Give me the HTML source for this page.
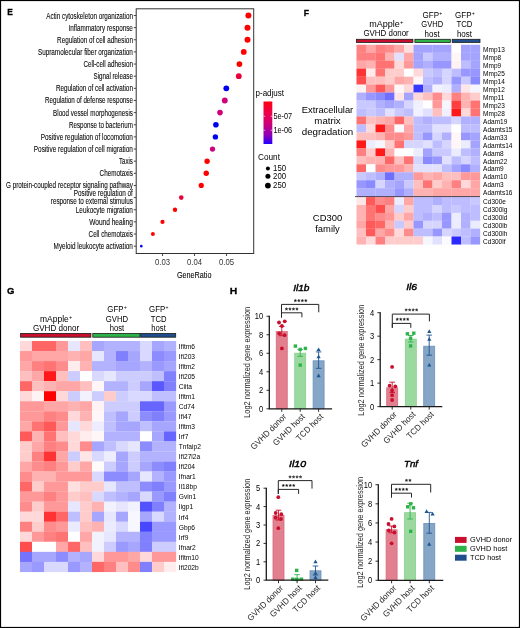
<!DOCTYPE html><html><head><meta charset="utf-8"><style>html,body{margin:0;padding:0;background:#fff;overflow:hidden}svg{will-change:transform} svg text{font-family:"Liberation Sans",sans-serif}</style></head><body><svg width="520" height="628" viewBox="0 0 520 628" style="display:block">
<rect x="0" y="0" width="520" height="628" fill="#fff"/>
<text x="7.20" y="15.40" font-size="9.8" fill="#000" font-weight="bold" textLength="5.60" lengthAdjust="spacingAndGlyphs" stroke="#000" stroke-width="0.3">E</text>
<text x="132.90" y="18.50" font-size="8.8" text-anchor="end" textLength="86.60" lengthAdjust="spacingAndGlyphs" stroke="#231f20" stroke-width="0.1" >Actin cytoskeleton organization</text>
<line x1="133.8" y1="15.50" x2="136.2" y2="15.50" stroke="#333" stroke-width="0.9"/>
<text x="132.90" y="30.64" font-size="8.8" text-anchor="end" textLength="64.30" lengthAdjust="spacingAndGlyphs" stroke="#231f20" stroke-width="0.1" >Inflammatory response</text>
<line x1="133.8" y1="27.64" x2="136.2" y2="27.64" stroke="#333" stroke-width="0.9"/>
<text x="132.90" y="42.78" font-size="8.8" text-anchor="end" textLength="75.80" lengthAdjust="spacingAndGlyphs" stroke="#231f20" stroke-width="0.1" >Regulation of cell adhesion</text>
<line x1="133.8" y1="39.78" x2="136.2" y2="39.78" stroke="#333" stroke-width="0.9"/>
<text x="132.90" y="54.92" font-size="8.8" text-anchor="end" textLength="95.00" lengthAdjust="spacingAndGlyphs" stroke="#231f20" stroke-width="0.1" >Supramolecular fiber organization</text>
<line x1="133.8" y1="51.92" x2="136.2" y2="51.92" stroke="#333" stroke-width="0.9"/>
<text x="132.90" y="67.06" font-size="8.8" text-anchor="end" textLength="49.40" lengthAdjust="spacingAndGlyphs" stroke="#231f20" stroke-width="0.1" >Cell-cell adhesion</text>
<line x1="133.8" y1="64.06" x2="136.2" y2="64.06" stroke="#333" stroke-width="0.9"/>
<text x="132.90" y="79.20" font-size="8.8" text-anchor="end" textLength="39.40" lengthAdjust="spacingAndGlyphs" stroke="#231f20" stroke-width="0.1" >Signal release</text>
<line x1="133.8" y1="76.20" x2="136.2" y2="76.20" stroke="#333" stroke-width="0.9"/>
<text x="132.90" y="91.34" font-size="8.8" text-anchor="end" textLength="76.90" lengthAdjust="spacingAndGlyphs" stroke="#231f20" stroke-width="0.1" >Regulation of cell activation</text>
<line x1="133.8" y1="88.34" x2="136.2" y2="88.34" stroke="#333" stroke-width="0.9"/>
<text x="132.90" y="103.48" font-size="8.8" text-anchor="end" textLength="87.90" lengthAdjust="spacingAndGlyphs" stroke="#231f20" stroke-width="0.1" >Regulation of defense response</text>
<line x1="133.8" y1="100.48" x2="136.2" y2="100.48" stroke="#333" stroke-width="0.9"/>
<text x="132.90" y="115.62" font-size="8.8" text-anchor="end" textLength="79.80" lengthAdjust="spacingAndGlyphs" stroke="#231f20" stroke-width="0.1" >Blood vessel morphogenesis</text>
<line x1="133.8" y1="112.62" x2="136.2" y2="112.62" stroke="#333" stroke-width="0.9"/>
<text x="132.90" y="127.76" font-size="8.8" text-anchor="end" textLength="63.90" lengthAdjust="spacingAndGlyphs" stroke="#231f20" stroke-width="0.1" >Response to bacterium</text>
<line x1="133.8" y1="124.76" x2="136.2" y2="124.76" stroke="#333" stroke-width="0.9"/>
<text x="132.90" y="139.90" font-size="8.8" text-anchor="end" textLength="92.10" lengthAdjust="spacingAndGlyphs" stroke="#231f20" stroke-width="0.1" >Positive regulation of locomotion</text>
<line x1="133.8" y1="136.90" x2="136.2" y2="136.90" stroke="#333" stroke-width="0.9"/>
<text x="132.90" y="152.04" font-size="8.8" text-anchor="end" textLength="99.10" lengthAdjust="spacingAndGlyphs" stroke="#231f20" stroke-width="0.1" >Positive regulation of cell migration</text>
<line x1="133.8" y1="149.04" x2="136.2" y2="149.04" stroke="#333" stroke-width="0.9"/>
<text x="132.90" y="164.18" font-size="8.8" text-anchor="end" textLength="13.90" lengthAdjust="spacingAndGlyphs" stroke="#231f20" stroke-width="0.1" >Taxis</text>
<line x1="133.8" y1="161.18" x2="136.2" y2="161.18" stroke="#333" stroke-width="0.9"/>
<text x="132.90" y="176.32" font-size="8.8" text-anchor="end" textLength="33.30" lengthAdjust="spacingAndGlyphs" stroke="#231f20" stroke-width="0.1" >Chemotaxis</text>
<line x1="133.8" y1="173.32" x2="136.2" y2="173.32" stroke="#333" stroke-width="0.9"/>
<text x="132.90" y="188.46" font-size="8.8" text-anchor="end" textLength="126.90" lengthAdjust="spacingAndGlyphs" stroke="#231f20" stroke-width="0.1" >G protein-coupled receptor signaling pathway</text>
<line x1="133.8" y1="185.46" x2="136.2" y2="185.46" stroke="#333" stroke-width="0.9"/>
<line x1="133.8" y1="197.60" x2="136.2" y2="197.60" stroke="#333" stroke-width="0.9"/>
<text x="132.90" y="212.74" font-size="8.8" text-anchor="end" textLength="57.10" lengthAdjust="spacingAndGlyphs" stroke="#231f20" stroke-width="0.1" >Leukocyte migration</text>
<line x1="133.8" y1="209.74" x2="136.2" y2="209.74" stroke="#333" stroke-width="0.9"/>
<text x="132.90" y="224.88" font-size="8.8" text-anchor="end" textLength="43.70" lengthAdjust="spacingAndGlyphs" stroke="#231f20" stroke-width="0.1" >Wound healing</text>
<line x1="133.8" y1="221.88" x2="136.2" y2="221.88" stroke="#333" stroke-width="0.9"/>
<text x="132.90" y="237.02" font-size="8.8" text-anchor="end" textLength="44.30" lengthAdjust="spacingAndGlyphs" stroke="#231f20" stroke-width="0.1" >Cell chemotaxis</text>
<line x1="133.8" y1="234.02" x2="136.2" y2="234.02" stroke="#333" stroke-width="0.9"/>
<text x="132.90" y="249.16" font-size="8.8" text-anchor="end" textLength="79.30" lengthAdjust="spacingAndGlyphs" stroke="#231f20" stroke-width="0.1" >Myeloid leukocyte activation</text>
<line x1="133.8" y1="246.16" x2="136.2" y2="246.16" stroke="#333" stroke-width="0.9"/>
<text x="132.90" y="196.20" font-size="8.8" text-anchor="end" textLength="59.10" lengthAdjust="spacingAndGlyphs" stroke="#231f20" stroke-width="0.1" >Positive regulation of</text>
<text x="132.90" y="204.40" font-size="8.8" text-anchor="end" textLength="82.10" lengthAdjust="spacingAndGlyphs" stroke="#231f20" stroke-width="0.1" >response to external stimulus</text>
<rect x="136.2" y="8.8" width="117.5" height="244.7" fill="none" stroke="#333" stroke-width="1"/>
<line x1="162.5" y1="253.5" x2="162.5" y2="256" stroke="#333" stroke-width="0.9"/>
<text x="162.50" y="264.50" font-size="8.3" text-anchor="middle" fill="#333333" textLength="15.00" lengthAdjust="spacingAndGlyphs" >0.03</text>
<line x1="194.5" y1="253.5" x2="194.5" y2="256" stroke="#333" stroke-width="0.9"/>
<text x="194.50" y="264.50" font-size="8.3" text-anchor="middle" fill="#333333" textLength="15.00" lengthAdjust="spacingAndGlyphs" >0.04</text>
<line x1="226.5" y1="253.5" x2="226.5" y2="256" stroke="#333" stroke-width="0.9"/>
<text x="226.50" y="264.50" font-size="8.3" text-anchor="middle" fill="#333333" textLength="15.00" lengthAdjust="spacingAndGlyphs" >0.05</text>
<text x="194.20" y="277.70" font-size="9.9" text-anchor="middle" textLength="34.60" lengthAdjust="spacingAndGlyphs" stroke="#231f20" stroke-width="0.1" >GeneRatio</text>
<circle cx="248.4" cy="15.50" r="3.0" fill="#ff0000"/>
<circle cx="247.5" cy="27.64" r="3.0" fill="#ff0000"/>
<circle cx="247.5" cy="39.78" r="3.0" fill="#ff0000"/>
<circle cx="243.75" cy="51.92" r="2.9" fill="#ff0000"/>
<circle cx="239.4" cy="64.06" r="2.9" fill="#ff0000"/>
<circle cx="238.8" cy="76.20" r="2.9" fill="#e8003a"/>
<circle cx="226.3" cy="88.34" r="2.9" fill="#0000f0"/>
<circle cx="224.8" cy="100.48" r="2.9" fill="#d0007a"/>
<circle cx="220" cy="112.62" r="2.8" fill="#d0007a"/>
<circle cx="215.9" cy="124.76" r="2.8" fill="#0000f0"/>
<circle cx="215.4" cy="136.90" r="2.7" fill="#0000f0"/>
<circle cx="212.5" cy="149.04" r="2.6" fill="#d0007a"/>
<circle cx="207.1" cy="161.18" r="2.7" fill="#ff0000"/>
<circle cx="206.25" cy="173.32" r="2.7" fill="#ff0000"/>
<circle cx="201.25" cy="185.46" r="2.6" fill="#ff0000"/>
<circle cx="181.25" cy="197.60" r="2.3" fill="#e8003a"/>
<circle cx="175" cy="209.74" r="2.2" fill="#ff0000"/>
<circle cx="162.5" cy="221.88" r="2.1" fill="#ff0000"/>
<circle cx="152.9" cy="234.02" r="2.0" fill="#ff0000"/>
<circle cx="141.3" cy="246.16" r="1.3" fill="#0000f0"/>
<text x="255.50" y="96.30" font-size="8.6" textLength="28.60" lengthAdjust="spacingAndGlyphs" >p-adjust</text>
<defs><linearGradient id="pg" x1="0" y1="0" x2="0" y2="1"><stop offset="0" stop-color="#ff0010"/><stop offset="0.3" stop-color="#ec0050"/><stop offset="0.55" stop-color="#c8007c"/><stop offset="0.8" stop-color="#8c00bc"/><stop offset="1" stop-color="#2000ff"/></linearGradient></defs>
<rect x="263.5" y="101.5" width="8.8" height="42.5" fill="url(#pg)"/>
<line x1="263.5" y1="116.25" x2="265.2" y2="116.25" stroke="#fff" stroke-width="0.6"/>
<line x1="270.6" y1="116.25" x2="272.3" y2="116.25" stroke="#fff" stroke-width="0.6"/>
<line x1="263.5" y1="130.25" x2="265.2" y2="130.25" stroke="#fff" stroke-width="0.6"/>
<line x1="270.6" y1="130.25" x2="272.3" y2="130.25" stroke="#fff" stroke-width="0.6"/>
<text x="273.40" y="118.80" font-size="8.4" textLength="18.60" lengthAdjust="spacingAndGlyphs" >5e-07</text>
<text x="273.40" y="132.80" font-size="8.4" textLength="18.60" lengthAdjust="spacingAndGlyphs" >1e-06</text>
<text x="258.00" y="159.80" font-size="8.9" textLength="22.00" lengthAdjust="spacingAndGlyphs" >Count</text>
<circle cx="267.9" cy="168.5" r="2.0" fill="#000"/>
<text x="273.10" y="171.25" font-size="8.4" textLength="13.00" lengthAdjust="spacingAndGlyphs" >150</text>
<circle cx="267.9" cy="176.25" r="2.5" fill="#000"/>
<text x="273.10" y="179.00" font-size="8.4" textLength="13.00" lengthAdjust="spacingAndGlyphs" >200</text>
<circle cx="267.9" cy="185.6" r="2.9" fill="#000"/>
<text x="273.10" y="188.35" font-size="8.4" textLength="13.00" lengthAdjust="spacingAndGlyphs" >250</text>
<text x="303.80" y="15.60" font-size="9.8" fill="#000" font-weight="bold" textLength="5.30" lengthAdjust="spacingAndGlyphs" stroke="#000" stroke-width="0.3">F</text>
<text x="369.30" y="26.60" font-size="8.4" textLength="30.58" lengthAdjust="spacingAndGlyphs" >mApple</text>
<text x="400.08" y="24.00" font-size="5.460000000000001" textLength="3.42" lengthAdjust="spacingAndGlyphs" >+</text>
<text x="386.10" y="36.10" font-size="8.4" text-anchor="middle" textLength="45.30" lengthAdjust="spacingAndGlyphs" >GVHD donor</text>
<text x="422.55" y="17.60" font-size="8.4" textLength="16.46" lengthAdjust="spacingAndGlyphs" >GFP</text>
<text x="439.21" y="15.00" font-size="5.460000000000001" textLength="3.04" lengthAdjust="spacingAndGlyphs" >+</text>
<text x="432.20" y="26.90" font-size="8.4" text-anchor="middle" textLength="21.80" lengthAdjust="spacingAndGlyphs" >GVHD</text>
<text x="432.10" y="36.50" font-size="8.4" text-anchor="middle" textLength="15.00" lengthAdjust="spacingAndGlyphs" >host</text>
<text x="455.05" y="17.60" font-size="8.4" textLength="16.46" lengthAdjust="spacingAndGlyphs" >GFP</text>
<text x="471.71" y="15.00" font-size="5.460000000000001" textLength="3.04" lengthAdjust="spacingAndGlyphs" >+</text>
<text x="464.50" y="26.90" font-size="8.4" text-anchor="middle" textLength="16.00" lengthAdjust="spacingAndGlyphs" >TCD</text>
<text x="464.50" y="36.50" font-size="8.4" text-anchor="middle" textLength="15.20" lengthAdjust="spacingAndGlyphs" >host</text>
<rect x="356.40" y="39.3" width="56.50" height="3.1" fill="#c8102e" stroke="#1a1a1a" stroke-width="0.8"/>
<rect x="414.90" y="39.3" width="35.40" height="3.1" fill="#2db34a" stroke="#1a1a1a" stroke-width="0.8"/>
<rect x="452.20" y="39.3" width="27.80" height="3.1" fill="#1f4e8c" stroke="#1a1a1a" stroke-width="0.8"/>
<rect x="356.50" y="44.75" width="9.65" height="8.12" fill="#ff8080"/>
<rect x="366.00" y="44.75" width="9.65" height="8.12" fill="#ffa6a6"/>
<rect x="375.50" y="44.75" width="9.65" height="8.12" fill="#ff8080"/>
<rect x="385.00" y="44.75" width="9.65" height="8.12" fill="#ff8c8c"/>
<rect x="394.50" y="44.75" width="9.65" height="8.12" fill="#ffa6a6"/>
<rect x="404.00" y="44.75" width="9.65" height="8.12" fill="#ffe0e0"/>
<rect x="413.50" y="44.75" width="9.65" height="8.12" fill="#a4a4ff"/>
<rect x="423.00" y="44.75" width="9.65" height="8.12" fill="#a4a4ff"/>
<rect x="432.50" y="44.75" width="9.65" height="8.12" fill="#a4a4ff"/>
<rect x="442.00" y="44.75" width="9.65" height="8.12" fill="#a4a4ff"/>
<rect x="451.50" y="44.75" width="9.65" height="8.12" fill="#ffffff"/>
<rect x="461.00" y="44.75" width="9.65" height="8.12" fill="#a4a4ff"/>
<rect x="470.50" y="44.75" width="9.65" height="8.12" fill="#a4a4ff"/>
<rect x="356.50" y="52.72" width="9.65" height="8.12" fill="#ff8080"/>
<rect x="366.00" y="52.72" width="9.65" height="8.12" fill="#ff8080"/>
<rect x="375.50" y="52.72" width="9.65" height="8.12" fill="#ff7373"/>
<rect x="385.00" y="52.72" width="9.65" height="8.12" fill="#ffb2b2"/>
<rect x="394.50" y="52.72" width="9.65" height="8.12" fill="#e1e1ff"/>
<rect x="404.00" y="52.72" width="9.65" height="8.12" fill="#ffa6a6"/>
<rect x="413.50" y="52.72" width="9.65" height="8.12" fill="#a4a4ff"/>
<rect x="423.00" y="52.72" width="9.65" height="8.12" fill="#c9c9ff"/>
<rect x="432.50" y="52.72" width="9.65" height="8.12" fill="#b0b0ff"/>
<rect x="442.00" y="52.72" width="9.65" height="8.12" fill="#b0b0ff"/>
<rect x="451.50" y="52.72" width="9.65" height="8.12" fill="#fff7f7"/>
<rect x="461.00" y="52.72" width="9.65" height="8.12" fill="#a4a4ff"/>
<rect x="470.50" y="52.72" width="9.65" height="8.12" fill="#a4a4ff"/>
<rect x="356.50" y="60.69" width="9.65" height="8.12" fill="#ffa6a6"/>
<rect x="366.00" y="60.69" width="9.65" height="8.12" fill="#ffb2b2"/>
<rect x="375.50" y="60.69" width="9.65" height="8.12" fill="#ff7373"/>
<rect x="385.00" y="60.69" width="9.65" height="8.12" fill="#ff7373"/>
<rect x="394.50" y="60.69" width="9.65" height="8.12" fill="#ffd9d9"/>
<rect x="404.00" y="60.69" width="9.65" height="8.12" fill="#ff9999"/>
<rect x="413.50" y="60.69" width="9.65" height="8.12" fill="#a4a4ff"/>
<rect x="423.00" y="60.69" width="9.65" height="8.12" fill="#b0b0ff"/>
<rect x="432.50" y="60.69" width="9.65" height="8.12" fill="#9797ff"/>
<rect x="442.00" y="60.69" width="9.65" height="8.12" fill="#9797ff"/>
<rect x="451.50" y="60.69" width="9.65" height="8.12" fill="#fff2f2"/>
<rect x="461.00" y="60.69" width="9.65" height="8.12" fill="#bdbdff"/>
<rect x="470.50" y="60.69" width="9.65" height="8.12" fill="#a4a4ff"/>
<rect x="356.50" y="68.66" width="9.65" height="8.12" fill="#ff3333"/>
<rect x="366.00" y="68.66" width="9.65" height="8.12" fill="#ffebeb"/>
<rect x="375.50" y="68.66" width="9.65" height="8.12" fill="#ff7373"/>
<rect x="385.00" y="68.66" width="9.65" height="8.12" fill="#ffcccc"/>
<rect x="394.50" y="68.66" width="9.65" height="8.12" fill="#ffcccc"/>
<rect x="404.00" y="68.66" width="9.65" height="8.12" fill="#ffffff"/>
<rect x="413.50" y="68.66" width="9.65" height="8.12" fill="#ffd9d9"/>
<rect x="423.00" y="68.66" width="9.65" height="8.12" fill="#c9c9ff"/>
<rect x="432.50" y="68.66" width="9.65" height="8.12" fill="#bdbdff"/>
<rect x="442.00" y="68.66" width="9.65" height="8.12" fill="#d5d5ff"/>
<rect x="451.50" y="68.66" width="9.65" height="8.12" fill="#bdbdff"/>
<rect x="461.00" y="68.66" width="9.65" height="8.12" fill="#9797ff"/>
<rect x="470.50" y="68.66" width="9.65" height="8.12" fill="#9797ff"/>
<rect x="356.50" y="76.63" width="9.65" height="8.12" fill="#ff4d4d"/>
<rect x="366.00" y="76.63" width="9.65" height="8.12" fill="#ffbfbf"/>
<rect x="375.50" y="76.63" width="9.65" height="8.12" fill="#ffbfbf"/>
<rect x="385.00" y="76.63" width="9.65" height="8.12" fill="#ffcccc"/>
<rect x="394.50" y="76.63" width="9.65" height="8.12" fill="#ffa6a6"/>
<rect x="404.00" y="76.63" width="9.65" height="8.12" fill="#ffb2b2"/>
<rect x="413.50" y="76.63" width="9.65" height="8.12" fill="#fff7f7"/>
<rect x="423.00" y="76.63" width="9.65" height="8.12" fill="#bdbdff"/>
<rect x="432.50" y="76.63" width="9.65" height="8.12" fill="#b0b0ff"/>
<rect x="442.00" y="76.63" width="9.65" height="8.12" fill="#d5d5ff"/>
<rect x="451.50" y="76.63" width="9.65" height="8.12" fill="#9797ff"/>
<rect x="461.00" y="76.63" width="9.65" height="8.12" fill="#c9c9ff"/>
<rect x="470.50" y="76.63" width="9.65" height="8.12" fill="#8a8aff"/>
<rect x="356.50" y="84.60" width="9.65" height="8.12" fill="#fff2f2"/>
<rect x="366.00" y="84.60" width="9.65" height="8.12" fill="#ff9999"/>
<rect x="375.50" y="84.60" width="9.65" height="8.12" fill="#ff5959"/>
<rect x="385.00" y="84.60" width="9.65" height="8.12" fill="#ff9999"/>
<rect x="394.50" y="84.60" width="9.65" height="8.12" fill="#fff7f7"/>
<rect x="404.00" y="84.60" width="9.65" height="8.12" fill="#ffd9d9"/>
<rect x="413.50" y="84.60" width="9.65" height="8.12" fill="#3838ff"/>
<rect x="423.00" y="84.60" width="9.65" height="8.12" fill="#b0b0ff"/>
<rect x="432.50" y="84.60" width="9.65" height="8.12" fill="#f2f2ff"/>
<rect x="442.00" y="84.60" width="9.65" height="8.12" fill="#ececff"/>
<rect x="451.50" y="84.60" width="9.65" height="8.12" fill="#b0b0ff"/>
<rect x="461.00" y="84.60" width="9.65" height="8.12" fill="#ffe6e6"/>
<rect x="470.50" y="84.60" width="9.65" height="8.12" fill="#f6f6ff"/>
<rect x="356.50" y="92.57" width="9.65" height="8.12" fill="#b0b0ff"/>
<rect x="366.00" y="92.57" width="9.65" height="8.12" fill="#9797ff"/>
<rect x="375.50" y="92.57" width="9.65" height="8.12" fill="#8a8aff"/>
<rect x="385.00" y="92.57" width="9.65" height="8.12" fill="#6f6fff"/>
<rect x="394.50" y="92.57" width="9.65" height="8.12" fill="#ffe6e6"/>
<rect x="404.00" y="92.57" width="9.65" height="8.12" fill="#a4a4ff"/>
<rect x="413.50" y="92.57" width="9.65" height="8.12" fill="#ffd9d9"/>
<rect x="423.00" y="92.57" width="9.65" height="8.12" fill="#ffbfbf"/>
<rect x="432.50" y="92.57" width="9.65" height="8.12" fill="#ff8c8c"/>
<rect x="442.00" y="92.57" width="9.65" height="8.12" fill="#ffd9d9"/>
<rect x="451.50" y="92.57" width="9.65" height="8.12" fill="#ff8080"/>
<rect x="461.00" y="92.57" width="9.65" height="8.12" fill="#ffb2b2"/>
<rect x="470.50" y="92.57" width="9.65" height="8.12" fill="#ffcccc"/>
<rect x="356.50" y="100.54" width="9.65" height="8.12" fill="#c9c9ff"/>
<rect x="366.00" y="100.54" width="9.65" height="8.12" fill="#c9c9ff"/>
<rect x="375.50" y="100.54" width="9.65" height="8.12" fill="#b0b0ff"/>
<rect x="385.00" y="100.54" width="9.65" height="8.12" fill="#a4a4ff"/>
<rect x="394.50" y="100.54" width="9.65" height="8.12" fill="#b0b0ff"/>
<rect x="404.00" y="100.54" width="9.65" height="8.12" fill="#d5d5ff"/>
<rect x="413.50" y="100.54" width="9.65" height="8.12" fill="#f0f0ff"/>
<rect x="423.00" y="100.54" width="9.65" height="8.12" fill="#ffffff"/>
<rect x="432.50" y="100.54" width="9.65" height="8.12" fill="#ff9999"/>
<rect x="442.00" y="100.54" width="9.65" height="8.12" fill="#f6f6ff"/>
<rect x="451.50" y="100.54" width="9.65" height="8.12" fill="#ff4040"/>
<rect x="461.00" y="100.54" width="9.65" height="8.12" fill="#ffb2b2"/>
<rect x="470.50" y="100.54" width="9.65" height="8.12" fill="#ff7373"/>
<rect x="356.50" y="108.51" width="9.65" height="8.12" fill="#bdbdff"/>
<rect x="366.00" y="108.51" width="9.65" height="8.12" fill="#c9c9ff"/>
<rect x="375.50" y="108.51" width="9.65" height="8.12" fill="#bdbdff"/>
<rect x="385.00" y="108.51" width="9.65" height="8.12" fill="#e1e1ff"/>
<rect x="394.50" y="108.51" width="9.65" height="8.12" fill="#c9c9ff"/>
<rect x="404.00" y="108.51" width="9.65" height="8.12" fill="#bdbdff"/>
<rect x="413.50" y="108.51" width="9.65" height="8.12" fill="#f0f0ff"/>
<rect x="423.00" y="108.51" width="9.65" height="8.12" fill="#e1e1ff"/>
<rect x="432.50" y="108.51" width="9.65" height="8.12" fill="#ffbfbf"/>
<rect x="442.00" y="108.51" width="9.65" height="8.12" fill="#f0f0ff"/>
<rect x="451.50" y="108.51" width="9.65" height="8.12" fill="#ff1919"/>
<rect x="461.00" y="108.51" width="9.65" height="8.12" fill="#ffd9d9"/>
<rect x="470.50" y="108.51" width="9.65" height="8.12" fill="#ff7373"/>
<rect x="356.50" y="116.48" width="9.65" height="8.12" fill="#ff7373"/>
<rect x="366.00" y="116.48" width="9.65" height="8.12" fill="#ffbfbf"/>
<rect x="375.50" y="116.48" width="9.65" height="8.12" fill="#ffb2b2"/>
<rect x="385.00" y="116.48" width="9.65" height="8.12" fill="#ffa6a6"/>
<rect x="394.50" y="116.48" width="9.65" height="8.12" fill="#ff6666"/>
<rect x="404.00" y="116.48" width="9.65" height="8.12" fill="#ffbfbf"/>
<rect x="413.50" y="116.48" width="9.65" height="8.12" fill="#bdbdff"/>
<rect x="423.00" y="116.48" width="9.65" height="8.12" fill="#b0b0ff"/>
<rect x="432.50" y="116.48" width="9.65" height="8.12" fill="#bdbdff"/>
<rect x="442.00" y="116.48" width="9.65" height="8.12" fill="#bdbdff"/>
<rect x="451.50" y="116.48" width="9.65" height="8.12" fill="#d5d5ff"/>
<rect x="461.00" y="116.48" width="9.65" height="8.12" fill="#b0b0ff"/>
<rect x="470.50" y="116.48" width="9.65" height="8.12" fill="#b0b0ff"/>
<rect x="356.50" y="124.45" width="9.65" height="8.12" fill="#bdbdff"/>
<rect x="366.00" y="124.45" width="9.65" height="8.12" fill="#ffd9d9"/>
<rect x="375.50" y="124.45" width="9.65" height="8.12" fill="#ff1919"/>
<rect x="385.00" y="124.45" width="9.65" height="8.12" fill="#ff8c8c"/>
<rect x="394.50" y="124.45" width="9.65" height="8.12" fill="#fafaff"/>
<rect x="404.00" y="124.45" width="9.65" height="8.12" fill="#ffa6a6"/>
<rect x="413.50" y="124.45" width="9.65" height="8.12" fill="#bdbdff"/>
<rect x="423.00" y="124.45" width="9.65" height="8.12" fill="#bdbdff"/>
<rect x="432.50" y="124.45" width="9.65" height="8.12" fill="#e1e1ff"/>
<rect x="442.00" y="124.45" width="9.65" height="8.12" fill="#e1e1ff"/>
<rect x="451.50" y="124.45" width="9.65" height="8.12" fill="#ffffff"/>
<rect x="461.00" y="124.45" width="9.65" height="8.12" fill="#bdbdff"/>
<rect x="470.50" y="124.45" width="9.65" height="8.12" fill="#bdbdff"/>
<rect x="356.50" y="132.42" width="9.65" height="8.12" fill="#ffbfbf"/>
<rect x="366.00" y="132.42" width="9.65" height="8.12" fill="#ffbfbf"/>
<rect x="375.50" y="132.42" width="9.65" height="8.12" fill="#ffb2b2"/>
<rect x="385.00" y="132.42" width="9.65" height="8.12" fill="#ff8c8c"/>
<rect x="394.50" y="132.42" width="9.65" height="8.12" fill="#ff8c8c"/>
<rect x="404.00" y="132.42" width="9.65" height="8.12" fill="#ff9999"/>
<rect x="413.50" y="132.42" width="9.65" height="8.12" fill="#bdbdff"/>
<rect x="423.00" y="132.42" width="9.65" height="8.12" fill="#9797ff"/>
<rect x="432.50" y="132.42" width="9.65" height="8.12" fill="#d5d5ff"/>
<rect x="442.00" y="132.42" width="9.65" height="8.12" fill="#b0b0ff"/>
<rect x="451.50" y="132.42" width="9.65" height="8.12" fill="#fff7f7"/>
<rect x="461.00" y="132.42" width="9.65" height="8.12" fill="#9797ff"/>
<rect x="470.50" y="132.42" width="9.65" height="8.12" fill="#a4a4ff"/>
<rect x="356.50" y="140.39" width="9.65" height="8.12" fill="#ff1919"/>
<rect x="366.00" y="140.39" width="9.65" height="8.12" fill="#ececff"/>
<rect x="375.50" y="140.39" width="9.65" height="8.12" fill="#f6f6ff"/>
<rect x="385.00" y="140.39" width="9.65" height="8.12" fill="#ffcccc"/>
<rect x="394.50" y="140.39" width="9.65" height="8.12" fill="#ff7373"/>
<rect x="404.00" y="140.39" width="9.65" height="8.12" fill="#d5d5ff"/>
<rect x="413.50" y="140.39" width="9.65" height="8.12" fill="#d5d5ff"/>
<rect x="423.00" y="140.39" width="9.65" height="8.12" fill="#e1e1ff"/>
<rect x="432.50" y="140.39" width="9.65" height="8.12" fill="#bdbdff"/>
<rect x="442.00" y="140.39" width="9.65" height="8.12" fill="#d5d5ff"/>
<rect x="451.50" y="140.39" width="9.65" height="8.12" fill="#fff7f7"/>
<rect x="461.00" y="140.39" width="9.65" height="8.12" fill="#ececff"/>
<rect x="470.50" y="140.39" width="9.65" height="8.12" fill="#a4a4ff"/>
<rect x="356.50" y="148.36" width="9.65" height="8.12" fill="#ff8080"/>
<rect x="366.00" y="148.36" width="9.65" height="8.12" fill="#ffcccc"/>
<rect x="375.50" y="148.36" width="9.65" height="8.12" fill="#ff1919"/>
<rect x="385.00" y="148.36" width="9.65" height="8.12" fill="#ffb2b2"/>
<rect x="394.50" y="148.36" width="9.65" height="8.12" fill="#ffffff"/>
<rect x="404.00" y="148.36" width="9.65" height="8.12" fill="#ffffff"/>
<rect x="413.50" y="148.36" width="9.65" height="8.12" fill="#ececff"/>
<rect x="423.00" y="148.36" width="9.65" height="8.12" fill="#a4a4ff"/>
<rect x="432.50" y="148.36" width="9.65" height="8.12" fill="#c9c9ff"/>
<rect x="442.00" y="148.36" width="9.65" height="8.12" fill="#c9c9ff"/>
<rect x="451.50" y="148.36" width="9.65" height="8.12" fill="#ececff"/>
<rect x="461.00" y="148.36" width="9.65" height="8.12" fill="#bdbdff"/>
<rect x="470.50" y="148.36" width="9.65" height="8.12" fill="#b0b0ff"/>
<rect x="356.50" y="156.33" width="9.65" height="8.12" fill="#ffbfbf"/>
<rect x="366.00" y="156.33" width="9.65" height="8.12" fill="#ffb2b2"/>
<rect x="375.50" y="156.33" width="9.65" height="8.12" fill="#ffb2b2"/>
<rect x="385.00" y="156.33" width="9.65" height="8.12" fill="#ff6666"/>
<rect x="394.50" y="156.33" width="9.65" height="8.12" fill="#ffbfbf"/>
<rect x="404.00" y="156.33" width="9.65" height="8.12" fill="#ff7373"/>
<rect x="413.50" y="156.33" width="9.65" height="8.12" fill="#d5d5ff"/>
<rect x="423.00" y="156.33" width="9.65" height="8.12" fill="#8a8aff"/>
<rect x="432.50" y="156.33" width="9.65" height="8.12" fill="#9797ff"/>
<rect x="442.00" y="156.33" width="9.65" height="8.12" fill="#e1e1ff"/>
<rect x="451.50" y="156.33" width="9.65" height="8.12" fill="#bdbdff"/>
<rect x="461.00" y="156.33" width="9.65" height="8.12" fill="#d5d5ff"/>
<rect x="470.50" y="156.33" width="9.65" height="8.12" fill="#bdbdff"/>
<rect x="356.50" y="164.30" width="9.65" height="8.12" fill="#ff6666"/>
<rect x="366.00" y="164.30" width="9.65" height="8.12" fill="#ffffff"/>
<rect x="375.50" y="164.30" width="9.65" height="8.12" fill="#ff8c8c"/>
<rect x="385.00" y="164.30" width="9.65" height="8.12" fill="#ff9999"/>
<rect x="394.50" y="164.30" width="9.65" height="8.12" fill="#ff9999"/>
<rect x="404.00" y="164.30" width="9.65" height="8.12" fill="#ffb2b2"/>
<rect x="413.50" y="164.30" width="9.65" height="8.12" fill="#e1e1ff"/>
<rect x="423.00" y="164.30" width="9.65" height="8.12" fill="#e1e1ff"/>
<rect x="432.50" y="164.30" width="9.65" height="8.12" fill="#e1e1ff"/>
<rect x="442.00" y="164.30" width="9.65" height="8.12" fill="#bdbdff"/>
<rect x="451.50" y="164.30" width="9.65" height="8.12" fill="#a4a4ff"/>
<rect x="461.00" y="164.30" width="9.65" height="8.12" fill="#8a8aff"/>
<rect x="470.50" y="164.30" width="9.65" height="8.12" fill="#b0b0ff"/>
<rect x="356.50" y="172.27" width="9.65" height="8.12" fill="#c9c9ff"/>
<rect x="366.00" y="172.27" width="9.65" height="8.12" fill="#bdbdff"/>
<rect x="375.50" y="172.27" width="9.65" height="8.12" fill="#b0b0ff"/>
<rect x="385.00" y="172.27" width="9.65" height="8.12" fill="#6f6fff"/>
<rect x="394.50" y="172.27" width="9.65" height="8.12" fill="#b0b0ff"/>
<rect x="404.00" y="172.27" width="9.65" height="8.12" fill="#b0b0ff"/>
<rect x="413.50" y="172.27" width="9.65" height="8.12" fill="#ff9999"/>
<rect x="423.00" y="172.27" width="9.65" height="8.12" fill="#ffb2b2"/>
<rect x="432.50" y="172.27" width="9.65" height="8.12" fill="#ffa6a6"/>
<rect x="442.00" y="172.27" width="9.65" height="8.12" fill="#ffbfbf"/>
<rect x="451.50" y="172.27" width="9.65" height="8.12" fill="#ffbfbf"/>
<rect x="461.00" y="172.27" width="9.65" height="8.12" fill="#ff9999"/>
<rect x="470.50" y="172.27" width="9.65" height="8.12" fill="#ff9999"/>
<rect x="356.50" y="180.24" width="9.65" height="8.12" fill="#9797ff"/>
<rect x="366.00" y="180.24" width="9.65" height="8.12" fill="#8a8aff"/>
<rect x="375.50" y="180.24" width="9.65" height="8.12" fill="#d5d5ff"/>
<rect x="385.00" y="180.24" width="9.65" height="8.12" fill="#b0b0ff"/>
<rect x="394.50" y="180.24" width="9.65" height="8.12" fill="#a4a4ff"/>
<rect x="404.00" y="180.24" width="9.65" height="8.12" fill="#c9c9ff"/>
<rect x="413.50" y="180.24" width="9.65" height="8.12" fill="#ffbfbf"/>
<rect x="423.00" y="180.24" width="9.65" height="8.12" fill="#ff7373"/>
<rect x="432.50" y="180.24" width="9.65" height="8.12" fill="#ffcccc"/>
<rect x="442.00" y="180.24" width="9.65" height="8.12" fill="#ffb2b2"/>
<rect x="451.50" y="180.24" width="9.65" height="8.12" fill="#ff8080"/>
<rect x="461.00" y="180.24" width="9.65" height="8.12" fill="#ffd9d9"/>
<rect x="470.50" y="180.24" width="9.65" height="8.12" fill="#ffa6a6"/>
<rect x="356.50" y="188.21" width="9.65" height="8.12" fill="#b0b0ff"/>
<rect x="366.00" y="188.21" width="9.65" height="8.12" fill="#b0b0ff"/>
<rect x="375.50" y="188.21" width="9.65" height="8.12" fill="#b0b0ff"/>
<rect x="385.00" y="188.21" width="9.65" height="8.12" fill="#b0b0ff"/>
<rect x="394.50" y="188.21" width="9.65" height="8.12" fill="#9797ff"/>
<rect x="404.00" y="188.21" width="9.65" height="8.12" fill="#b0b0ff"/>
<rect x="413.50" y="188.21" width="9.65" height="8.12" fill="#ffb2b2"/>
<rect x="423.00" y="188.21" width="9.65" height="8.12" fill="#ffb2b2"/>
<rect x="432.50" y="188.21" width="9.65" height="8.12" fill="#ffa6a6"/>
<rect x="442.00" y="188.21" width="9.65" height="8.12" fill="#ffa6a6"/>
<rect x="451.50" y="188.21" width="9.65" height="8.12" fill="#ffa6a6"/>
<rect x="461.00" y="188.21" width="9.65" height="8.12" fill="#ffa6a6"/>
<rect x="470.50" y="188.21" width="9.65" height="8.12" fill="#ffa6a6"/>
<rect x="356.50" y="197.10" width="9.65" height="8.03" fill="#ffe6e6"/>
<rect x="366.00" y="197.10" width="9.65" height="8.03" fill="#ff5959"/>
<rect x="375.50" y="197.10" width="9.65" height="8.03" fill="#ff8c8c"/>
<rect x="385.00" y="197.10" width="9.65" height="8.03" fill="#ff8080"/>
<rect x="394.50" y="197.10" width="9.65" height="8.03" fill="#ececff"/>
<rect x="404.00" y="197.10" width="9.65" height="8.03" fill="#ffa6a6"/>
<rect x="413.50" y="197.10" width="9.65" height="8.03" fill="#bdbdff"/>
<rect x="423.00" y="197.10" width="9.65" height="8.03" fill="#bdbdff"/>
<rect x="432.50" y="197.10" width="9.65" height="8.03" fill="#b0b0ff"/>
<rect x="442.00" y="197.10" width="9.65" height="8.03" fill="#bdbdff"/>
<rect x="451.50" y="197.10" width="9.65" height="8.03" fill="#bdbdff"/>
<rect x="461.00" y="197.10" width="9.65" height="8.03" fill="#bdbdff"/>
<rect x="470.50" y="197.10" width="9.65" height="8.03" fill="#c9c9ff"/>
<rect x="356.50" y="204.98" width="9.65" height="8.03" fill="#ffb2b2"/>
<rect x="366.00" y="204.98" width="9.65" height="8.03" fill="#ff7373"/>
<rect x="375.50" y="204.98" width="9.65" height="8.03" fill="#ff4d4d"/>
<rect x="385.00" y="204.98" width="9.65" height="8.03" fill="#ffa6a6"/>
<rect x="394.50" y="204.98" width="9.65" height="8.03" fill="#d5d5ff"/>
<rect x="404.00" y="204.98" width="9.65" height="8.03" fill="#ffcccc"/>
<rect x="413.50" y="204.98" width="9.65" height="8.03" fill="#bdbdff"/>
<rect x="423.00" y="204.98" width="9.65" height="8.03" fill="#bdbdff"/>
<rect x="432.50" y="204.98" width="9.65" height="8.03" fill="#d5d5ff"/>
<rect x="442.00" y="204.98" width="9.65" height="8.03" fill="#bdbdff"/>
<rect x="451.50" y="204.98" width="9.65" height="8.03" fill="#c9c9ff"/>
<rect x="461.00" y="204.98" width="9.65" height="8.03" fill="#bdbdff"/>
<rect x="470.50" y="204.98" width="9.65" height="8.03" fill="#bdbdff"/>
<rect x="356.50" y="212.86" width="9.65" height="8.03" fill="#ffb2b2"/>
<rect x="366.00" y="212.86" width="9.65" height="8.03" fill="#ff7373"/>
<rect x="375.50" y="212.86" width="9.65" height="8.03" fill="#ff8c8c"/>
<rect x="385.00" y="212.86" width="9.65" height="8.03" fill="#ff9999"/>
<rect x="394.50" y="212.86" width="9.65" height="8.03" fill="#ffcccc"/>
<rect x="404.00" y="212.86" width="9.65" height="8.03" fill="#ffa6a6"/>
<rect x="413.50" y="212.86" width="9.65" height="8.03" fill="#bdbdff"/>
<rect x="423.00" y="212.86" width="9.65" height="8.03" fill="#b0b0ff"/>
<rect x="432.50" y="212.86" width="9.65" height="8.03" fill="#bdbdff"/>
<rect x="442.00" y="212.86" width="9.65" height="8.03" fill="#9797ff"/>
<rect x="451.50" y="212.86" width="9.65" height="8.03" fill="#ececff"/>
<rect x="461.00" y="212.86" width="9.65" height="8.03" fill="#b0b0ff"/>
<rect x="470.50" y="212.86" width="9.65" height="8.03" fill="#bdbdff"/>
<rect x="356.50" y="220.74" width="9.65" height="8.03" fill="#ffa6a6"/>
<rect x="366.00" y="220.74" width="9.65" height="8.03" fill="#ff5959"/>
<rect x="375.50" y="220.74" width="9.65" height="8.03" fill="#ff6666"/>
<rect x="385.00" y="220.74" width="9.65" height="8.03" fill="#ffb2b2"/>
<rect x="394.50" y="220.74" width="9.65" height="8.03" fill="#c9c9ff"/>
<rect x="404.00" y="220.74" width="9.65" height="8.03" fill="#ffcccc"/>
<rect x="413.50" y="220.74" width="9.65" height="8.03" fill="#9797ff"/>
<rect x="423.00" y="220.74" width="9.65" height="8.03" fill="#d5d5ff"/>
<rect x="432.50" y="220.74" width="9.65" height="8.03" fill="#d5d5ff"/>
<rect x="442.00" y="220.74" width="9.65" height="8.03" fill="#9797ff"/>
<rect x="451.50" y="220.74" width="9.65" height="8.03" fill="#ececff"/>
<rect x="461.00" y="220.74" width="9.65" height="8.03" fill="#b0b0ff"/>
<rect x="470.50" y="220.74" width="9.65" height="8.03" fill="#ececff"/>
<rect x="356.50" y="228.62" width="9.65" height="8.03" fill="#ffbfbf"/>
<rect x="366.00" y="228.62" width="9.65" height="8.03" fill="#ff5959"/>
<rect x="375.50" y="228.62" width="9.65" height="8.03" fill="#ffa6a6"/>
<rect x="385.00" y="228.62" width="9.65" height="8.03" fill="#ff8c8c"/>
<rect x="394.50" y="228.62" width="9.65" height="8.03" fill="#ffd9d9"/>
<rect x="404.00" y="228.62" width="9.65" height="8.03" fill="#ff8c8c"/>
<rect x="413.50" y="228.62" width="9.65" height="8.03" fill="#bdbdff"/>
<rect x="423.00" y="228.62" width="9.65" height="8.03" fill="#bdbdff"/>
<rect x="432.50" y="228.62" width="9.65" height="8.03" fill="#9797ff"/>
<rect x="442.00" y="228.62" width="9.65" height="8.03" fill="#d5d5ff"/>
<rect x="451.50" y="228.62" width="9.65" height="8.03" fill="#c9c9ff"/>
<rect x="461.00" y="228.62" width="9.65" height="8.03" fill="#bdbdff"/>
<rect x="470.50" y="228.62" width="9.65" height="8.03" fill="#b0b0ff"/>
<rect x="356.50" y="236.50" width="9.65" height="8.03" fill="#ffb2b2"/>
<rect x="366.00" y="236.50" width="9.65" height="8.03" fill="#ffd9d9"/>
<rect x="375.50" y="236.50" width="9.65" height="8.03" fill="#ff8080"/>
<rect x="385.00" y="236.50" width="9.65" height="8.03" fill="#ffcccc"/>
<rect x="394.50" y="236.50" width="9.65" height="8.03" fill="#ffcccc"/>
<rect x="404.00" y="236.50" width="9.65" height="8.03" fill="#ffcccc"/>
<rect x="413.50" y="236.50" width="9.65" height="8.03" fill="#ffcccc"/>
<rect x="423.00" y="236.50" width="9.65" height="8.03" fill="#f6f6ff"/>
<rect x="432.50" y="236.50" width="9.65" height="8.03" fill="#e1e1ff"/>
<rect x="442.00" y="236.50" width="9.65" height="8.03" fill="#fafaff"/>
<rect x="451.50" y="236.50" width="9.65" height="8.03" fill="#2a2aff"/>
<rect x="461.00" y="236.50" width="9.65" height="8.03" fill="#bdbdff"/>
<rect x="470.50" y="236.50" width="9.65" height="8.03" fill="#9797ff"/>
<line x1="355" y1="196.6" x2="480" y2="196.6" stroke="#3a2a3a" stroke-width="0.9"/>
<text x="483.10" y="51.94" font-size="6.9" textLength="21.67" lengthAdjust="spacingAndGlyphs" >Mmp13</text>
<text x="483.10" y="59.91" font-size="6.9" textLength="18.06" lengthAdjust="spacingAndGlyphs" >Mmp8</text>
<text x="483.10" y="67.88" font-size="6.9" textLength="18.06" lengthAdjust="spacingAndGlyphs" >Mmp9</text>
<text x="483.10" y="75.84" font-size="6.9" textLength="21.67" lengthAdjust="spacingAndGlyphs" >Mmp25</text>
<text x="483.10" y="83.81" font-size="6.9" textLength="21.67" lengthAdjust="spacingAndGlyphs" >Mmp14</text>
<text x="483.10" y="91.78" font-size="6.9" textLength="21.67" lengthAdjust="spacingAndGlyphs" >Mmp12</text>
<text x="483.10" y="99.75" font-size="6.9" textLength="21.19" lengthAdjust="spacingAndGlyphs" >Mmp11</text>
<text x="483.10" y="107.72" font-size="6.9" textLength="21.67" lengthAdjust="spacingAndGlyphs" >Mmp23</text>
<text x="483.10" y="115.69" font-size="6.9" textLength="21.67" lengthAdjust="spacingAndGlyphs" >Mmp28</text>
<text x="483.10" y="123.67" font-size="6.9" textLength="24.21" lengthAdjust="spacingAndGlyphs" >Adam19</text>
<text x="483.10" y="131.63" font-size="6.9" textLength="29.27" lengthAdjust="spacingAndGlyphs" >Adamts15</text>
<text x="483.10" y="139.61" font-size="6.9" textLength="24.21" lengthAdjust="spacingAndGlyphs" >Adam33</text>
<text x="483.10" y="147.57" font-size="6.9" textLength="29.27" lengthAdjust="spacingAndGlyphs" >Adamts14</text>
<text x="483.10" y="155.55" font-size="6.9" textLength="20.60" lengthAdjust="spacingAndGlyphs" >Adam8</text>
<text x="483.10" y="163.51" font-size="6.9" textLength="24.21" lengthAdjust="spacingAndGlyphs" >Adam22</text>
<text x="483.10" y="171.49" font-size="6.9" textLength="20.60" lengthAdjust="spacingAndGlyphs" >Adam9</text>
<text x="483.10" y="179.45" font-size="6.9" textLength="24.21" lengthAdjust="spacingAndGlyphs" >Adam10</text>
<text x="483.10" y="187.43" font-size="6.9" textLength="20.60" lengthAdjust="spacingAndGlyphs" >Adam3</text>
<text x="483.10" y="195.40" font-size="6.9" textLength="29.27" lengthAdjust="spacingAndGlyphs" >Adamts16</text>
<text x="483.10" y="204.24" font-size="6.9" textLength="22.77" lengthAdjust="spacingAndGlyphs" >Cd300e</text>
<text x="483.10" y="212.12" font-size="6.9" textLength="24.21" lengthAdjust="spacingAndGlyphs" >Cd300lg</text>
<text x="483.10" y="220.00" font-size="6.9" textLength="24.21" lengthAdjust="spacingAndGlyphs" >Cd300ld</text>
<text x="483.10" y="227.88" font-size="6.9" textLength="24.21" lengthAdjust="spacingAndGlyphs" >Cd300lb</text>
<text x="483.10" y="235.76" font-size="6.9" textLength="24.21" lengthAdjust="spacingAndGlyphs" >Cd300lh</text>
<text x="483.10" y="243.64" font-size="6.9" textLength="22.40" lengthAdjust="spacingAndGlyphs" >Cd300lf</text>
<text x="327.50" y="113.00" font-size="9" text-anchor="middle" textLength="51.50" lengthAdjust="spacingAndGlyphs" >Extracellular</text>
<text x="327.50" y="124.40" font-size="9" text-anchor="middle" textLength="26.30" lengthAdjust="spacingAndGlyphs" >matrix</text>
<text x="327.50" y="135.20" font-size="9" text-anchor="middle" textLength="51.50" lengthAdjust="spacingAndGlyphs" >degradation</text>
<text x="327.50" y="221.00" font-size="9" text-anchor="middle" textLength="29.30" lengthAdjust="spacingAndGlyphs" >CD300</text>
<text x="327.50" y="231.50" font-size="9" text-anchor="middle" textLength="24.50" lengthAdjust="spacingAndGlyphs" >family</text>
<text x="6.90" y="293.80" font-size="9.8" fill="#000" font-weight="bold" textLength="7.40" lengthAdjust="spacingAndGlyphs" stroke="#000" stroke-width="0.3">G</text>
<text x="40.00" y="321.70" font-size="8.4" textLength="28.78" lengthAdjust="spacingAndGlyphs" >mApple</text>
<text x="68.98" y="319.10" font-size="5.460000000000001" textLength="3.22" lengthAdjust="spacingAndGlyphs" >+</text>
<text x="56.00" y="330.80" font-size="8.4" text-anchor="middle" textLength="46.20" lengthAdjust="spacingAndGlyphs" >GVHD donor</text>
<text x="107.30" y="312.00" font-size="8.4" textLength="16.21" lengthAdjust="spacingAndGlyphs" >GFP</text>
<text x="123.71" y="309.40" font-size="5.460000000000001" textLength="2.99" lengthAdjust="spacingAndGlyphs" >+</text>
<text x="116.90" y="321.60" font-size="8.4" text-anchor="middle" textLength="22.30" lengthAdjust="spacingAndGlyphs" >GVHD</text>
<text x="116.90" y="330.80" font-size="8.4" text-anchor="middle" textLength="14.50" lengthAdjust="spacingAndGlyphs" >host</text>
<text x="149.00" y="312.00" font-size="8.4" textLength="16.21" lengthAdjust="spacingAndGlyphs" >GFP</text>
<text x="165.41" y="309.40" font-size="5.460000000000001" textLength="2.99" lengthAdjust="spacingAndGlyphs" >+</text>
<text x="158.60" y="321.60" font-size="8.4" text-anchor="middle" textLength="15.80" lengthAdjust="spacingAndGlyphs" >TCD</text>
<text x="158.60" y="330.80" font-size="8.4" text-anchor="middle" textLength="14.50" lengthAdjust="spacingAndGlyphs" >host</text>
<rect x="20.60" y="333.4" width="70.30" height="3.8" fill="#c8102e" stroke="#1a1a1a" stroke-width="0.8"/>
<rect x="92.80" y="333.4" width="47.20" height="3.8" fill="#2db34a" stroke="#1a1a1a" stroke-width="0.8"/>
<rect x="140.70" y="333.4" width="35.00" height="3.8" fill="#1f4e8c" stroke="#1a1a1a" stroke-width="0.8"/>
<rect x="20.00" y="341.00" width="12.15" height="10.19" fill="#ffd9d9"/>
<rect x="32.00" y="341.00" width="12.15" height="10.19" fill="#ff6666"/>
<rect x="44.00" y="341.00" width="12.15" height="10.19" fill="#ff6666"/>
<rect x="56.00" y="341.00" width="12.15" height="10.19" fill="#ff9999"/>
<rect x="68.00" y="341.00" width="12.15" height="10.19" fill="#e6e6ff"/>
<rect x="80.00" y="341.00" width="12.15" height="10.19" fill="#ffbfbf"/>
<rect x="92.00" y="341.00" width="12.15" height="10.19" fill="#a6a6ff"/>
<rect x="104.00" y="341.00" width="12.15" height="10.19" fill="#b2b2ff"/>
<rect x="116.00" y="341.00" width="12.15" height="10.19" fill="#b2b2ff"/>
<rect x="128.00" y="341.00" width="12.15" height="10.19" fill="#b2b2ff"/>
<rect x="140.00" y="341.00" width="12.15" height="10.19" fill="#d9d9ff"/>
<rect x="152.00" y="341.00" width="12.15" height="10.19" fill="#a6a6ff"/>
<rect x="164.00" y="341.00" width="12.15" height="10.19" fill="#b2b2ff"/>
<rect x="20.00" y="351.04" width="12.15" height="10.19" fill="#ff9999"/>
<rect x="32.00" y="351.04" width="12.15" height="10.19" fill="#ffa6a6"/>
<rect x="44.00" y="351.04" width="12.15" height="10.19" fill="#ffa6a6"/>
<rect x="56.00" y="351.04" width="12.15" height="10.19" fill="#ffa6a6"/>
<rect x="68.00" y="351.04" width="12.15" height="10.19" fill="#ffb2b2"/>
<rect x="80.00" y="351.04" width="12.15" height="10.19" fill="#ffa6a6"/>
<rect x="92.00" y="351.04" width="12.15" height="10.19" fill="#e6e6ff"/>
<rect x="104.00" y="351.04" width="12.15" height="10.19" fill="#b2b2ff"/>
<rect x="116.00" y="351.04" width="12.15" height="10.19" fill="#8080ff"/>
<rect x="128.00" y="351.04" width="12.15" height="10.19" fill="#a6a6ff"/>
<rect x="140.00" y="351.04" width="12.15" height="10.19" fill="#d9d9ff"/>
<rect x="152.00" y="351.04" width="12.15" height="10.19" fill="#8c8cff"/>
<rect x="164.00" y="351.04" width="12.15" height="10.19" fill="#9999ff"/>
<rect x="20.00" y="361.08" width="12.15" height="10.19" fill="#ffa6a6"/>
<rect x="32.00" y="361.08" width="12.15" height="10.19" fill="#ff8080"/>
<rect x="44.00" y="361.08" width="12.15" height="10.19" fill="#ff7373"/>
<rect x="56.00" y="361.08" width="12.15" height="10.19" fill="#ff8c8c"/>
<rect x="68.00" y="361.08" width="12.15" height="10.19" fill="#ffeded"/>
<rect x="80.00" y="361.08" width="12.15" height="10.19" fill="#ffb2b2"/>
<rect x="92.00" y="361.08" width="12.15" height="10.19" fill="#b2b2ff"/>
<rect x="104.00" y="361.08" width="12.15" height="10.19" fill="#b2b2ff"/>
<rect x="116.00" y="361.08" width="12.15" height="10.19" fill="#a6a6ff"/>
<rect x="128.00" y="361.08" width="12.15" height="10.19" fill="#a6a6ff"/>
<rect x="140.00" y="361.08" width="12.15" height="10.19" fill="#b2b2ff"/>
<rect x="152.00" y="361.08" width="12.15" height="10.19" fill="#9999ff"/>
<rect x="164.00" y="361.08" width="12.15" height="10.19" fill="#a6a6ff"/>
<rect x="20.00" y="371.12" width="12.15" height="10.19" fill="#ffbfbf"/>
<rect x="32.00" y="371.12" width="12.15" height="10.19" fill="#ffa6a6"/>
<rect x="44.00" y="371.12" width="12.15" height="10.19" fill="#ff1919"/>
<rect x="56.00" y="371.12" width="12.15" height="10.19" fill="#ffbfbf"/>
<rect x="68.00" y="371.12" width="12.15" height="10.19" fill="#ccccff"/>
<rect x="80.00" y="371.12" width="12.15" height="10.19" fill="#ffffff"/>
<rect x="92.00" y="371.12" width="12.15" height="10.19" fill="#d9d9ff"/>
<rect x="104.00" y="371.12" width="12.15" height="10.19" fill="#e6e6ff"/>
<rect x="116.00" y="371.12" width="12.15" height="10.19" fill="#ccccff"/>
<rect x="128.00" y="371.12" width="12.15" height="10.19" fill="#ccccff"/>
<rect x="140.00" y="371.12" width="12.15" height="10.19" fill="#ccccff"/>
<rect x="152.00" y="371.12" width="12.15" height="10.19" fill="#bfbfff"/>
<rect x="164.00" y="371.12" width="12.15" height="10.19" fill="#8080ff"/>
<rect x="20.00" y="381.16" width="12.15" height="10.19" fill="#ff6666"/>
<rect x="32.00" y="381.16" width="12.15" height="10.19" fill="#ffbfbf"/>
<rect x="44.00" y="381.16" width="12.15" height="10.19" fill="#ffb2b2"/>
<rect x="56.00" y="381.16" width="12.15" height="10.19" fill="#ffa6a6"/>
<rect x="68.00" y="381.16" width="12.15" height="10.19" fill="#ffa6a6"/>
<rect x="80.00" y="381.16" width="12.15" height="10.19" fill="#ffbfbf"/>
<rect x="92.00" y="381.16" width="12.15" height="10.19" fill="#fff7f7"/>
<rect x="104.00" y="381.16" width="12.15" height="10.19" fill="#b2b2ff"/>
<rect x="116.00" y="381.16" width="12.15" height="10.19" fill="#b2b2ff"/>
<rect x="128.00" y="381.16" width="12.15" height="10.19" fill="#ccccff"/>
<rect x="140.00" y="381.16" width="12.15" height="10.19" fill="#a6a6ff"/>
<rect x="152.00" y="381.16" width="12.15" height="10.19" fill="#5959ff"/>
<rect x="164.00" y="381.16" width="12.15" height="10.19" fill="#8080ff"/>
<rect x="20.00" y="391.20" width="12.15" height="10.19" fill="#ffd9d9"/>
<rect x="32.00" y="391.20" width="12.15" height="10.19" fill="#fff2f2"/>
<rect x="44.00" y="391.20" width="12.15" height="10.19" fill="#ff0000"/>
<rect x="56.00" y="391.20" width="12.15" height="10.19" fill="#ffd9d9"/>
<rect x="68.00" y="391.20" width="12.15" height="10.19" fill="#ccccff"/>
<rect x="80.00" y="391.20" width="12.15" height="10.19" fill="#f2f2ff"/>
<rect x="92.00" y="391.20" width="12.15" height="10.19" fill="#ccccff"/>
<rect x="104.00" y="391.20" width="12.15" height="10.19" fill="#ffcccc"/>
<rect x="116.00" y="391.20" width="12.15" height="10.19" fill="#ccccff"/>
<rect x="128.00" y="391.20" width="12.15" height="10.19" fill="#d9d9ff"/>
<rect x="140.00" y="391.20" width="12.15" height="10.19" fill="#d9d9ff"/>
<rect x="152.00" y="391.20" width="12.15" height="10.19" fill="#bfbfff"/>
<rect x="164.00" y="391.20" width="12.15" height="10.19" fill="#bfbfff"/>
<rect x="20.00" y="401.24" width="12.15" height="10.19" fill="#ff9999"/>
<rect x="32.00" y="401.24" width="12.15" height="10.19" fill="#ff9999"/>
<rect x="44.00" y="401.24" width="12.15" height="10.19" fill="#ffa6a6"/>
<rect x="56.00" y="401.24" width="12.15" height="10.19" fill="#ffa6a6"/>
<rect x="68.00" y="401.24" width="12.15" height="10.19" fill="#ffb2b2"/>
<rect x="80.00" y="401.24" width="12.15" height="10.19" fill="#ffa6a6"/>
<rect x="92.00" y="401.24" width="12.15" height="10.19" fill="#fff2f2"/>
<rect x="104.00" y="401.24" width="12.15" height="10.19" fill="#ccccff"/>
<rect x="116.00" y="401.24" width="12.15" height="10.19" fill="#ccccff"/>
<rect x="128.00" y="401.24" width="12.15" height="10.19" fill="#ccccff"/>
<rect x="140.00" y="401.24" width="12.15" height="10.19" fill="#6666ff"/>
<rect x="152.00" y="401.24" width="12.15" height="10.19" fill="#6666ff"/>
<rect x="164.00" y="401.24" width="12.15" height="10.19" fill="#9999ff"/>
<rect x="20.00" y="411.28" width="12.15" height="10.19" fill="#ff9999"/>
<rect x="32.00" y="411.28" width="12.15" height="10.19" fill="#ff9999"/>
<rect x="44.00" y="411.28" width="12.15" height="10.19" fill="#ff8080"/>
<rect x="56.00" y="411.28" width="12.15" height="10.19" fill="#ff8c8c"/>
<rect x="68.00" y="411.28" width="12.15" height="10.19" fill="#ffd9d9"/>
<rect x="80.00" y="411.28" width="12.15" height="10.19" fill="#ffb2b2"/>
<rect x="92.00" y="411.28" width="12.15" height="10.19" fill="#fff7f7"/>
<rect x="104.00" y="411.28" width="12.15" height="10.19" fill="#bfbfff"/>
<rect x="116.00" y="411.28" width="12.15" height="10.19" fill="#a6a6ff"/>
<rect x="128.00" y="411.28" width="12.15" height="10.19" fill="#ccccff"/>
<rect x="140.00" y="411.28" width="12.15" height="10.19" fill="#8c8cff"/>
<rect x="152.00" y="411.28" width="12.15" height="10.19" fill="#8080ff"/>
<rect x="164.00" y="411.28" width="12.15" height="10.19" fill="#9999ff"/>
<rect x="20.00" y="421.32" width="12.15" height="10.19" fill="#ffa6a6"/>
<rect x="32.00" y="421.32" width="12.15" height="10.19" fill="#ff7373"/>
<rect x="44.00" y="421.32" width="12.15" height="10.19" fill="#ff5959"/>
<rect x="56.00" y="421.32" width="12.15" height="10.19" fill="#ff9999"/>
<rect x="68.00" y="421.32" width="12.15" height="10.19" fill="#e6e6ff"/>
<rect x="80.00" y="421.32" width="12.15" height="10.19" fill="#ffd9d9"/>
<rect x="92.00" y="421.32" width="12.15" height="10.19" fill="#ededff"/>
<rect x="104.00" y="421.32" width="12.15" height="10.19" fill="#bfbfff"/>
<rect x="116.00" y="421.32" width="12.15" height="10.19" fill="#a6a6ff"/>
<rect x="128.00" y="421.32" width="12.15" height="10.19" fill="#a6a6ff"/>
<rect x="140.00" y="421.32" width="12.15" height="10.19" fill="#bfbfff"/>
<rect x="152.00" y="421.32" width="12.15" height="10.19" fill="#a6a6ff"/>
<rect x="164.00" y="421.32" width="12.15" height="10.19" fill="#a6a6ff"/>
<rect x="20.00" y="431.36" width="12.15" height="10.19" fill="#ff5959"/>
<rect x="32.00" y="431.36" width="12.15" height="10.19" fill="#ffb2b2"/>
<rect x="44.00" y="431.36" width="12.15" height="10.19" fill="#ff7373"/>
<rect x="56.00" y="431.36" width="12.15" height="10.19" fill="#ffbfbf"/>
<rect x="68.00" y="431.36" width="12.15" height="10.19" fill="#ffd9d9"/>
<rect x="80.00" y="431.36" width="12.15" height="10.19" fill="#ffeded"/>
<rect x="92.00" y="431.36" width="12.15" height="10.19" fill="#fff7f7"/>
<rect x="104.00" y="431.36" width="12.15" height="10.19" fill="#b2b2ff"/>
<rect x="116.00" y="431.36" width="12.15" height="10.19" fill="#b2b2ff"/>
<rect x="128.00" y="431.36" width="12.15" height="10.19" fill="#b2b2ff"/>
<rect x="140.00" y="431.36" width="12.15" height="10.19" fill="#ffffff"/>
<rect x="152.00" y="431.36" width="12.15" height="10.19" fill="#a6a6ff"/>
<rect x="164.00" y="431.36" width="12.15" height="10.19" fill="#6666ff"/>
<rect x="20.00" y="441.40" width="12.15" height="10.19" fill="#ffcccc"/>
<rect x="32.00" y="441.40" width="12.15" height="10.19" fill="#ffa6a6"/>
<rect x="44.00" y="441.40" width="12.15" height="10.19" fill="#ff8080"/>
<rect x="56.00" y="441.40" width="12.15" height="10.19" fill="#ff8c8c"/>
<rect x="68.00" y="441.40" width="12.15" height="10.19" fill="#ffd9d9"/>
<rect x="80.00" y="441.40" width="12.15" height="10.19" fill="#ff8c8c"/>
<rect x="92.00" y="441.40" width="12.15" height="10.19" fill="#a6a6ff"/>
<rect x="104.00" y="441.40" width="12.15" height="10.19" fill="#bfbfff"/>
<rect x="116.00" y="441.40" width="12.15" height="10.19" fill="#d9d9ff"/>
<rect x="128.00" y="441.40" width="12.15" height="10.19" fill="#e6e6ff"/>
<rect x="140.00" y="441.40" width="12.15" height="10.19" fill="#8c8cff"/>
<rect x="152.00" y="441.40" width="12.15" height="10.19" fill="#b2b2ff"/>
<rect x="164.00" y="441.40" width="12.15" height="10.19" fill="#b2b2ff"/>
<rect x="20.00" y="451.44" width="12.15" height="10.19" fill="#ffcccc"/>
<rect x="32.00" y="451.44" width="12.15" height="10.19" fill="#ff8080"/>
<rect x="44.00" y="451.44" width="12.15" height="10.19" fill="#ff3333"/>
<rect x="56.00" y="451.44" width="12.15" height="10.19" fill="#ffa6a6"/>
<rect x="68.00" y="451.44" width="12.15" height="10.19" fill="#ccccff"/>
<rect x="80.00" y="451.44" width="12.15" height="10.19" fill="#ffe6e6"/>
<rect x="92.00" y="451.44" width="12.15" height="10.19" fill="#d9d9ff"/>
<rect x="104.00" y="451.44" width="12.15" height="10.19" fill="#ededff"/>
<rect x="116.00" y="451.44" width="12.15" height="10.19" fill="#a6a6ff"/>
<rect x="128.00" y="451.44" width="12.15" height="10.19" fill="#ccccff"/>
<rect x="140.00" y="451.44" width="12.15" height="10.19" fill="#b2b2ff"/>
<rect x="152.00" y="451.44" width="12.15" height="10.19" fill="#b2b2ff"/>
<rect x="164.00" y="451.44" width="12.15" height="10.19" fill="#b2b2ff"/>
<rect x="20.00" y="461.48" width="12.15" height="10.19" fill="#ffa6a6"/>
<rect x="32.00" y="461.48" width="12.15" height="10.19" fill="#ff8c8c"/>
<rect x="44.00" y="461.48" width="12.15" height="10.19" fill="#ff8080"/>
<rect x="56.00" y="461.48" width="12.15" height="10.19" fill="#ff9999"/>
<rect x="68.00" y="461.48" width="12.15" height="10.19" fill="#ffcccc"/>
<rect x="80.00" y="461.48" width="12.15" height="10.19" fill="#ffa6a6"/>
<rect x="92.00" y="461.48" width="12.15" height="10.19" fill="#fffafa"/>
<rect x="104.00" y="461.48" width="12.15" height="10.19" fill="#ccccff"/>
<rect x="116.00" y="461.48" width="12.15" height="10.19" fill="#a6a6ff"/>
<rect x="128.00" y="461.48" width="12.15" height="10.19" fill="#ccccff"/>
<rect x="140.00" y="461.48" width="12.15" height="10.19" fill="#a6a6ff"/>
<rect x="152.00" y="461.48" width="12.15" height="10.19" fill="#8c8cff"/>
<rect x="164.00" y="461.48" width="12.15" height="10.19" fill="#8080ff"/>
<rect x="20.00" y="471.52" width="12.15" height="10.19" fill="#ff8c8c"/>
<rect x="32.00" y="471.52" width="12.15" height="10.19" fill="#ffb2b2"/>
<rect x="44.00" y="471.52" width="12.15" height="10.19" fill="#ffb2b2"/>
<rect x="56.00" y="471.52" width="12.15" height="10.19" fill="#ff9999"/>
<rect x="68.00" y="471.52" width="12.15" height="10.19" fill="#ff9999"/>
<rect x="80.00" y="471.52" width="12.15" height="10.19" fill="#ff9999"/>
<rect x="92.00" y="471.52" width="12.15" height="10.19" fill="#d9d9ff"/>
<rect x="104.00" y="471.52" width="12.15" height="10.19" fill="#8c8cff"/>
<rect x="116.00" y="471.52" width="12.15" height="10.19" fill="#8c8cff"/>
<rect x="128.00" y="471.52" width="12.15" height="10.19" fill="#a6a6ff"/>
<rect x="140.00" y="471.52" width="12.15" height="10.19" fill="#e6e6ff"/>
<rect x="152.00" y="471.52" width="12.15" height="10.19" fill="#b2b2ff"/>
<rect x="164.00" y="471.52" width="12.15" height="10.19" fill="#9999ff"/>
<rect x="20.00" y="481.56" width="12.15" height="10.19" fill="#ff6666"/>
<rect x="32.00" y="481.56" width="12.15" height="10.19" fill="#ffcccc"/>
<rect x="44.00" y="481.56" width="12.15" height="10.19" fill="#ff9999"/>
<rect x="56.00" y="481.56" width="12.15" height="10.19" fill="#ff9999"/>
<rect x="68.00" y="481.56" width="12.15" height="10.19" fill="#ffe0e0"/>
<rect x="80.00" y="481.56" width="12.15" height="10.19" fill="#ffcccc"/>
<rect x="92.00" y="481.56" width="12.15" height="10.19" fill="#ffcccc"/>
<rect x="104.00" y="481.56" width="12.15" height="10.19" fill="#e6e6ff"/>
<rect x="116.00" y="481.56" width="12.15" height="10.19" fill="#bfbfff"/>
<rect x="128.00" y="481.56" width="12.15" height="10.19" fill="#bfbfff"/>
<rect x="140.00" y="481.56" width="12.15" height="10.19" fill="#8c8cff"/>
<rect x="152.00" y="481.56" width="12.15" height="10.19" fill="#8080ff"/>
<rect x="164.00" y="481.56" width="12.15" height="10.19" fill="#9999ff"/>
<rect x="20.00" y="491.60" width="12.15" height="10.19" fill="#ff9999"/>
<rect x="32.00" y="491.60" width="12.15" height="10.19" fill="#ff9999"/>
<rect x="44.00" y="491.60" width="12.15" height="10.19" fill="#ff8080"/>
<rect x="56.00" y="491.60" width="12.15" height="10.19" fill="#ff9999"/>
<rect x="68.00" y="491.60" width="12.15" height="10.19" fill="#ffcccc"/>
<rect x="80.00" y="491.60" width="12.15" height="10.19" fill="#ffbfbf"/>
<rect x="92.00" y="491.60" width="12.15" height="10.19" fill="#d9d9ff"/>
<rect x="104.00" y="491.60" width="12.15" height="10.19" fill="#bfbfff"/>
<rect x="116.00" y="491.60" width="12.15" height="10.19" fill="#b2b2ff"/>
<rect x="128.00" y="491.60" width="12.15" height="10.19" fill="#a6a6ff"/>
<rect x="140.00" y="491.60" width="12.15" height="10.19" fill="#d9d9ff"/>
<rect x="152.00" y="491.60" width="12.15" height="10.19" fill="#9999ff"/>
<rect x="164.00" y="491.60" width="12.15" height="10.19" fill="#8080ff"/>
<rect x="20.00" y="501.64" width="12.15" height="10.19" fill="#ff8c8c"/>
<rect x="32.00" y="501.64" width="12.15" height="10.19" fill="#ffcccc"/>
<rect x="44.00" y="501.64" width="12.15" height="10.19" fill="#ff9999"/>
<rect x="56.00" y="501.64" width="12.15" height="10.19" fill="#ff9999"/>
<rect x="68.00" y="501.64" width="12.15" height="10.19" fill="#e6e6ff"/>
<rect x="80.00" y="501.64" width="12.15" height="10.19" fill="#ffcccc"/>
<rect x="92.00" y="501.64" width="12.15" height="10.19" fill="#ffb2b2"/>
<rect x="104.00" y="501.64" width="12.15" height="10.19" fill="#f2f2ff"/>
<rect x="116.00" y="501.64" width="12.15" height="10.19" fill="#e6e6ff"/>
<rect x="128.00" y="501.64" width="12.15" height="10.19" fill="#f2f2ff"/>
<rect x="140.00" y="501.64" width="12.15" height="10.19" fill="#5252ff"/>
<rect x="152.00" y="501.64" width="12.15" height="10.19" fill="#8080ff"/>
<rect x="164.00" y="501.64" width="12.15" height="10.19" fill="#b2b2ff"/>
<rect x="20.00" y="511.68" width="12.15" height="10.19" fill="#ffd9d9"/>
<rect x="32.00" y="511.68" width="12.15" height="10.19" fill="#ffd9d9"/>
<rect x="44.00" y="511.68" width="12.15" height="10.19" fill="#ff3333"/>
<rect x="56.00" y="511.68" width="12.15" height="10.19" fill="#ff6666"/>
<rect x="68.00" y="511.68" width="12.15" height="10.19" fill="#bfbfff"/>
<rect x="80.00" y="511.68" width="12.15" height="10.19" fill="#ffcccc"/>
<rect x="92.00" y="511.68" width="12.15" height="10.19" fill="#a6a6ff"/>
<rect x="104.00" y="511.68" width="12.15" height="10.19" fill="#e6e6ff"/>
<rect x="116.00" y="511.68" width="12.15" height="10.19" fill="#a6a6ff"/>
<rect x="128.00" y="511.68" width="12.15" height="10.19" fill="#f7f7ff"/>
<rect x="140.00" y="511.68" width="12.15" height="10.19" fill="#a6a6ff"/>
<rect x="152.00" y="511.68" width="12.15" height="10.19" fill="#d9d9ff"/>
<rect x="164.00" y="511.68" width="12.15" height="10.19" fill="#b2b2ff"/>
<rect x="20.00" y="521.72" width="12.15" height="10.19" fill="#ff8080"/>
<rect x="32.00" y="521.72" width="12.15" height="10.19" fill="#ffcccc"/>
<rect x="44.00" y="521.72" width="12.15" height="10.19" fill="#ff8c8c"/>
<rect x="56.00" y="521.72" width="12.15" height="10.19" fill="#ff9999"/>
<rect x="68.00" y="521.72" width="12.15" height="10.19" fill="#ebebff"/>
<rect x="80.00" y="521.72" width="12.15" height="10.19" fill="#ffbfbf"/>
<rect x="92.00" y="521.72" width="12.15" height="10.19" fill="#ffb2b2"/>
<rect x="104.00" y="521.72" width="12.15" height="10.19" fill="#ebebff"/>
<rect x="116.00" y="521.72" width="12.15" height="10.19" fill="#d9d9ff"/>
<rect x="128.00" y="521.72" width="12.15" height="10.19" fill="#f7f7ff"/>
<rect x="140.00" y="521.72" width="12.15" height="10.19" fill="#4747ff"/>
<rect x="152.00" y="521.72" width="12.15" height="10.19" fill="#9999ff"/>
<rect x="164.00" y="521.72" width="12.15" height="10.19" fill="#9999ff"/>
<rect x="20.00" y="531.76" width="12.15" height="10.19" fill="#ffd9d9"/>
<rect x="32.00" y="531.76" width="12.15" height="10.19" fill="#ff9999"/>
<rect x="44.00" y="531.76" width="12.15" height="10.19" fill="#ff8080"/>
<rect x="56.00" y="531.76" width="12.15" height="10.19" fill="#ff7373"/>
<rect x="68.00" y="531.76" width="12.15" height="10.19" fill="#ffffff"/>
<rect x="80.00" y="531.76" width="12.15" height="10.19" fill="#ffa6a6"/>
<rect x="92.00" y="531.76" width="12.15" height="10.19" fill="#f2f2ff"/>
<rect x="104.00" y="531.76" width="12.15" height="10.19" fill="#e6e6ff"/>
<rect x="116.00" y="531.76" width="12.15" height="10.19" fill="#b2b2ff"/>
<rect x="128.00" y="531.76" width="12.15" height="10.19" fill="#b2b2ff"/>
<rect x="140.00" y="531.76" width="12.15" height="10.19" fill="#8080ff"/>
<rect x="152.00" y="531.76" width="12.15" height="10.19" fill="#9999ff"/>
<rect x="164.00" y="531.76" width="12.15" height="10.19" fill="#9999ff"/>
<rect x="20.00" y="541.80" width="12.15" height="10.19" fill="#ff4d4d"/>
<rect x="32.00" y="541.80" width="12.15" height="10.19" fill="#ffffff"/>
<rect x="44.00" y="541.80" width="12.15" height="10.19" fill="#ffffff"/>
<rect x="56.00" y="541.80" width="12.15" height="10.19" fill="#ffa6a6"/>
<rect x="68.00" y="541.80" width="12.15" height="10.19" fill="#ff6666"/>
<rect x="80.00" y="541.80" width="12.15" height="10.19" fill="#ffbfbf"/>
<rect x="92.00" y="541.80" width="12.15" height="10.19" fill="#f2f2ff"/>
<rect x="104.00" y="541.80" width="12.15" height="10.19" fill="#ccccff"/>
<rect x="116.00" y="541.80" width="12.15" height="10.19" fill="#9999ff"/>
<rect x="128.00" y="541.80" width="12.15" height="10.19" fill="#a6a6ff"/>
<rect x="140.00" y="541.80" width="12.15" height="10.19" fill="#8080ff"/>
<rect x="152.00" y="541.80" width="12.15" height="10.19" fill="#ccccff"/>
<rect x="164.00" y="541.80" width="12.15" height="10.19" fill="#ccccff"/>
<rect x="20.00" y="551.84" width="12.15" height="10.19" fill="#7373ff"/>
<rect x="32.00" y="551.84" width="12.15" height="10.19" fill="#a6a6ff"/>
<rect x="44.00" y="551.84" width="12.15" height="10.19" fill="#a6a6ff"/>
<rect x="56.00" y="551.84" width="12.15" height="10.19" fill="#8c8cff"/>
<rect x="68.00" y="551.84" width="12.15" height="10.19" fill="#b2b2ff"/>
<rect x="80.00" y="551.84" width="12.15" height="10.19" fill="#a6a6ff"/>
<rect x="92.00" y="551.84" width="12.15" height="10.19" fill="#ffd9d9"/>
<rect x="104.00" y="551.84" width="12.15" height="10.19" fill="#ff9999"/>
<rect x="116.00" y="551.84" width="12.15" height="10.19" fill="#ff9999"/>
<rect x="128.00" y="551.84" width="12.15" height="10.19" fill="#ffa6a6"/>
<rect x="140.00" y="551.84" width="12.15" height="10.19" fill="#ffd9d9"/>
<rect x="152.00" y="551.84" width="12.15" height="10.19" fill="#ff9999"/>
<rect x="164.00" y="551.84" width="12.15" height="10.19" fill="#ff9999"/>
<rect x="20.00" y="561.88" width="12.15" height="10.19" fill="#a6a6ff"/>
<rect x="32.00" y="561.88" width="12.15" height="10.19" fill="#9999ff"/>
<rect x="44.00" y="561.88" width="12.15" height="10.19" fill="#d9d9ff"/>
<rect x="56.00" y="561.88" width="12.15" height="10.19" fill="#d9d9ff"/>
<rect x="68.00" y="561.88" width="12.15" height="10.19" fill="#9999ff"/>
<rect x="80.00" y="561.88" width="12.15" height="10.19" fill="#b2b2ff"/>
<rect x="92.00" y="561.88" width="12.15" height="10.19" fill="#ff6666"/>
<rect x="104.00" y="561.88" width="12.15" height="10.19" fill="#ff8080"/>
<rect x="116.00" y="561.88" width="12.15" height="10.19" fill="#ffbfbf"/>
<rect x="128.00" y="561.88" width="12.15" height="10.19" fill="#ff8c8c"/>
<rect x="140.00" y="561.88" width="12.15" height="10.19" fill="#8080ff"/>
<rect x="152.00" y="561.88" width="12.15" height="10.19" fill="#ffcccc"/>
<rect x="164.00" y="561.88" width="12.15" height="10.19" fill="#ffeded"/>
<text x="178.80" y="348.82" font-size="6.9" textLength="16.21" lengthAdjust="spacingAndGlyphs" >Ifitm6</text>
<text x="178.80" y="358.86" font-size="6.9" textLength="16.22" lengthAdjust="spacingAndGlyphs" >Ifi203</text>
<text x="178.80" y="368.90" font-size="6.9" textLength="16.21" lengthAdjust="spacingAndGlyphs" >Ifitm2</text>
<text x="178.80" y="378.94" font-size="6.9" textLength="16.22" lengthAdjust="spacingAndGlyphs" >Ifi205</text>
<text x="178.80" y="388.98" font-size="6.9" textLength="13.26" lengthAdjust="spacingAndGlyphs" >Ciita</text>
<text x="178.80" y="399.02" font-size="6.9" textLength="16.21" lengthAdjust="spacingAndGlyphs" >Ifitm1</text>
<text x="178.80" y="409.06" font-size="6.9" textLength="15.85" lengthAdjust="spacingAndGlyphs" >Cd74</text>
<text x="178.80" y="419.10" font-size="6.9" textLength="12.53" lengthAdjust="spacingAndGlyphs" >Ifi47</text>
<text x="178.80" y="429.14" font-size="6.9" textLength="16.21" lengthAdjust="spacingAndGlyphs" >Ifitm3</text>
<text x="178.80" y="439.18" font-size="6.9" textLength="9.58" lengthAdjust="spacingAndGlyphs" >Irf7</text>
<text x="178.80" y="449.22" font-size="6.9" textLength="22.11" lengthAdjust="spacingAndGlyphs" >Tnfaip2</text>
<text x="178.80" y="459.26" font-size="6.9" textLength="21.38" lengthAdjust="spacingAndGlyphs" >Ifi27l2a</text>
<text x="178.80" y="469.30" font-size="6.9" textLength="16.22" lengthAdjust="spacingAndGlyphs" >Ifi204</text>
<text x="178.80" y="479.34" font-size="6.9" textLength="16.95" lengthAdjust="spacingAndGlyphs" >Ifnar1</text>
<text x="178.80" y="489.38" font-size="6.9" textLength="18.06" lengthAdjust="spacingAndGlyphs" >Il18bp</text>
<text x="178.80" y="499.42" font-size="6.9" textLength="17.32" lengthAdjust="spacingAndGlyphs" >Gvin1</text>
<text x="178.80" y="509.46" font-size="6.9" textLength="14.38" lengthAdjust="spacingAndGlyphs" >Iigp1</text>
<text x="178.80" y="519.50" font-size="6.9" textLength="9.58" lengthAdjust="spacingAndGlyphs" >Irf4</text>
<text x="178.80" y="529.54" font-size="6.9" textLength="16.22" lengthAdjust="spacingAndGlyphs" >Gbp6</text>
<text x="178.80" y="539.58" font-size="6.9" textLength="9.58" lengthAdjust="spacingAndGlyphs" >Irf9</text>
<text x="178.80" y="549.62" font-size="6.9" textLength="16.95" lengthAdjust="spacingAndGlyphs" >Ifnar2</text>
<text x="178.80" y="559.66" font-size="6.9" textLength="19.90" lengthAdjust="spacingAndGlyphs" >Ifitm10</text>
<text x="178.80" y="569.70" font-size="6.9" textLength="19.91" lengthAdjust="spacingAndGlyphs" >Ifi202b</text>
<text x="229.80" y="293.90" font-size="9.8" fill="#000" font-weight="bold" textLength="7.50" lengthAdjust="spacingAndGlyphs" stroke="#000" stroke-width="0.3">H</text>
<rect x="276.25" y="331.50" width="11.0" height="77.30" fill="#e2808f" stroke="#d86a7c" stroke-width="0.8"/>
<rect x="294.70" y="353.20" width="11.0" height="55.60" fill="#9cd9a0" stroke="#86cf8a" stroke-width="0.8"/>
<rect x="313.10" y="360.80" width="11.0" height="48.00" fill="#85a6c6" stroke="#6d91bb" stroke-width="0.8"/>
<path d="M281.75 326.50V335.70M278.95 326.50H284.55M278.95 335.70H284.55" stroke="#c8102e" stroke-width="0.9" fill="none"/>
<circle cx="279" cy="322.5" r="1.9" fill="#c8102e"/>
<circle cx="284.75" cy="321.3" r="1.9" fill="#c8102e"/>
<circle cx="281.9" cy="326" r="1.9" fill="#c8102e"/>
<circle cx="279.2" cy="333.5" r="1.9" fill="#c8102e"/>
<circle cx="284.6" cy="335.2" r="1.9" fill="#c8102e"/>
<circle cx="281.9" cy="348.4" r="1.9" fill="#c8102e"/>
<path d="M300.20 349.60V356.30M297.40 349.60H303.00M297.40 356.30H303.00" stroke="#2db34a" stroke-width="0.9" fill="none"/>
<rect x="293.70" y="344.40" width="3.4" height="3.4" fill="#2db34a"/>
<rect x="298.50" y="347.70" width="3.4" height="3.4" fill="#2db34a"/>
<rect x="303.70" y="346.70" width="3.4" height="3.4" fill="#2db34a"/>
<rect x="298.50" y="363.40" width="3.4" height="3.4" fill="#2db34a"/>
<path d="M318.60 351.90V368.30M315.80 351.90H321.40M315.80 368.30H321.40" stroke="#1f5591" stroke-width="0.9" fill="none"/>
<path d="M316.50 351.10L318.60 347.40L320.70 351.10Z" fill="#1f5591"/>
<path d="M316.50 358.30L318.60 354.60L320.70 358.30Z" fill="#1f5591"/>
<path d="M316.50 377.20L318.60 373.50L320.70 377.20Z" fill="#1f5591"/>
<path d="M269.30 315.75V408.80H332.10" stroke="#1a1a1a" stroke-width="1.3" fill="none"/>
<line x1="266.50" y1="408.80" x2="269.30" y2="408.80" stroke="#1a1a1a" stroke-width="0.9"/>
<text x="263.20" y="411.80" font-size="8.6" text-anchor="end" textLength="4.18" lengthAdjust="spacingAndGlyphs" >0</text>
<line x1="266.50" y1="390.29" x2="269.30" y2="390.29" stroke="#1a1a1a" stroke-width="0.9"/>
<text x="263.20" y="393.29" font-size="8.6" text-anchor="end" textLength="4.18" lengthAdjust="spacingAndGlyphs" >2</text>
<line x1="266.50" y1="371.78" x2="269.30" y2="371.78" stroke="#1a1a1a" stroke-width="0.9"/>
<text x="263.20" y="374.78" font-size="8.6" text-anchor="end" textLength="4.18" lengthAdjust="spacingAndGlyphs" >4</text>
<line x1="266.50" y1="353.27" x2="269.30" y2="353.27" stroke="#1a1a1a" stroke-width="0.9"/>
<text x="263.20" y="356.27" font-size="8.6" text-anchor="end" textLength="4.18" lengthAdjust="spacingAndGlyphs" >6</text>
<line x1="266.50" y1="334.76" x2="269.30" y2="334.76" stroke="#1a1a1a" stroke-width="0.9"/>
<text x="263.20" y="337.76" font-size="8.6" text-anchor="end" textLength="4.18" lengthAdjust="spacingAndGlyphs" >8</text>
<line x1="266.50" y1="316.25" x2="269.30" y2="316.25" stroke="#1a1a1a" stroke-width="0.9"/>
<text x="263.20" y="319.25" font-size="8.6" text-anchor="end" textLength="8.36" lengthAdjust="spacingAndGlyphs" >10</text>
<line x1="281.75" y1="408.80" x2="281.75" y2="411.80" stroke="#1a1a1a" stroke-width="0.9"/>
<line x1="300.20" y1="408.80" x2="300.20" y2="411.80" stroke="#1a1a1a" stroke-width="0.9"/>
<line x1="318.60" y1="408.80" x2="318.60" y2="411.80" stroke="#1a1a1a" stroke-width="0.9"/>
<g transform="translate(286.95,417.20) rotate(-45)"><text x="0" y="0" font-size="8.6" text-anchor="end" textLength="46.65" lengthAdjust="spacingAndGlyphs" fill="#231f20">GVHD donor</text></g>
<g transform="translate(305.40,417.20) rotate(-45)"><text x="0" y="0" font-size="8.6" text-anchor="end" textLength="41.21" lengthAdjust="spacingAndGlyphs" fill="#231f20">GVHD host</text></g>
<g transform="translate(323.80,417.20) rotate(-45)"><text x="0" y="0" font-size="8.6" text-anchor="end" textLength="34.41" lengthAdjust="spacingAndGlyphs" fill="#231f20">TCD host</text></g>
<text x="301.30" y="290.60" font-size="9.7" text-anchor="middle" fill="#000" font-style="italic" textLength="16.30" lengthAdjust="spacingAndGlyphs" stroke="#000" stroke-width="0.45">Il1b</text>
<path d="M281.50 317.50V304.40H318.75V312.30" stroke="#262626" stroke-width="1" fill="none"/>
<path d="M281.50 317.50V312.80H301.90V317.30" stroke="#262626" stroke-width="1" fill="none"/>
<polygon points="295.35,299.20 295.73,300.12 296.73,300.20 295.97,300.85 296.20,301.82 295.35,301.30 294.50,301.82 294.73,300.85 293.97,300.20 294.97,300.12" fill="#1a1a1a" stroke="#1a1a1a" stroke-width="0.35"/>
<polygon points="298.85,299.20 299.23,300.12 300.23,300.20 299.47,300.85 299.70,301.82 298.85,301.30 298.00,301.82 298.23,300.85 297.47,300.20 298.47,300.12" fill="#1a1a1a" stroke="#1a1a1a" stroke-width="0.35"/>
<polygon points="302.35,299.20 302.73,300.12 303.73,300.20 302.97,300.85 303.20,301.82 302.35,301.30 301.50,301.82 301.73,300.85 300.97,300.20 301.97,300.12" fill="#1a1a1a" stroke="#1a1a1a" stroke-width="0.35"/>
<polygon points="305.85,299.20 306.23,300.12 307.23,300.20 306.47,300.85 306.70,301.82 305.85,301.30 305.00,301.82 305.23,300.85 304.47,300.20 305.47,300.12" fill="#1a1a1a" stroke="#1a1a1a" stroke-width="0.35"/>
<polygon points="286.45,307.60 286.83,308.52 287.83,308.60 287.07,309.25 287.30,310.22 286.45,309.70 285.60,310.22 285.83,309.25 285.07,308.60 286.07,308.52" fill="#1a1a1a" stroke="#1a1a1a" stroke-width="0.35"/>
<polygon points="289.95,307.60 290.33,308.52 291.33,308.60 290.57,309.25 290.80,310.22 289.95,309.70 289.10,310.22 289.33,309.25 288.57,308.60 289.57,308.52" fill="#1a1a1a" stroke="#1a1a1a" stroke-width="0.35"/>
<polygon points="293.45,307.60 293.83,308.52 294.83,308.60 294.07,309.25 294.30,310.22 293.45,309.70 292.60,310.22 292.83,309.25 292.07,308.60 293.07,308.52" fill="#1a1a1a" stroke="#1a1a1a" stroke-width="0.35"/>
<polygon points="296.95,307.60 297.33,308.52 298.33,308.60 297.57,309.25 297.80,310.22 296.95,309.70 296.10,310.22 296.33,309.25 295.57,308.60 296.57,308.52" fill="#1a1a1a" stroke="#1a1a1a" stroke-width="0.35"/>
<g transform="translate(250.30,362.30) rotate(-90)"><text x="0" y="0" font-size="9.3" text-anchor="middle" textLength="111.00" lengthAdjust="spacingAndGlyphs" fill="#231f20">Log2 normalized gene expression</text></g>
<rect x="386.70" y="387.80" width="11.0" height="18.80" fill="#e2808f" stroke="#d86a7c" stroke-width="0.8"/>
<rect x="405.30" y="339.10" width="11.0" height="67.50" fill="#9cd9a0" stroke="#86cf8a" stroke-width="0.8"/>
<rect x="423.70" y="346.20" width="11.0" height="60.40" fill="#85a6c6" stroke="#6d91bb" stroke-width="0.8"/>
<path d="M392.20 382.20V392.60M389.40 382.20H395.00M389.40 392.60H395.00" stroke="#c8102e" stroke-width="0.9" fill="none"/>
<circle cx="392.1" cy="366.9" r="1.9" fill="#c8102e"/>
<circle cx="389.6" cy="385.7" r="1.9" fill="#c8102e"/>
<circle cx="395.3" cy="386.3" r="1.9" fill="#c8102e"/>
<circle cx="392.1" cy="390.5" r="1.9" fill="#c8102e"/>
<circle cx="392.1" cy="395.2" r="1.9" fill="#c8102e"/>
<circle cx="392.1" cy="400" r="1.9" fill="#c8102e"/>
<path d="M410.80 335.50V342.00M408.00 335.50H413.60M408.00 342.00H413.60" stroke="#2db34a" stroke-width="0.9" fill="none"/>
<rect x="405.70" y="332.10" width="3.4" height="3.4" fill="#2db34a"/>
<rect x="412.10" y="331.50" width="3.4" height="3.4" fill="#2db34a"/>
<rect x="408.90" y="336.60" width="3.4" height="3.4" fill="#2db34a"/>
<rect x="408.90" y="344.20" width="3.4" height="3.4" fill="#2db34a"/>
<path d="M429.20 335.10V355.20M426.40 335.10H432.00M426.40 355.20H432.00" stroke="#1f5591" stroke-width="0.9" fill="none"/>
<path d="M427.20 332.90L429.30 329.20L431.40 332.90Z" fill="#1f5591"/>
<path d="M427.20 340.80L429.30 337.10L431.40 340.80Z" fill="#1f5591"/>
<path d="M427.20 366.60L429.30 362.90L431.40 366.60Z" fill="#1f5591"/>
<path d="M380.20 312.20V406.60H442.30" stroke="#1a1a1a" stroke-width="1.3" fill="none"/>
<line x1="377.40" y1="406.60" x2="380.20" y2="406.60" stroke="#1a1a1a" stroke-width="0.9"/>
<text x="374.10" y="409.60" font-size="8.6" text-anchor="end" textLength="4.18" lengthAdjust="spacingAndGlyphs" >0</text>
<line x1="377.40" y1="383.12" x2="380.20" y2="383.12" stroke="#1a1a1a" stroke-width="0.9"/>
<text x="374.10" y="386.12" font-size="8.6" text-anchor="end" textLength="4.18" lengthAdjust="spacingAndGlyphs" >1</text>
<line x1="377.40" y1="359.65" x2="380.20" y2="359.65" stroke="#1a1a1a" stroke-width="0.9"/>
<text x="374.10" y="362.65" font-size="8.6" text-anchor="end" textLength="4.18" lengthAdjust="spacingAndGlyphs" >2</text>
<line x1="377.40" y1="336.18" x2="380.20" y2="336.18" stroke="#1a1a1a" stroke-width="0.9"/>
<text x="374.10" y="339.18" font-size="8.6" text-anchor="end" textLength="4.18" lengthAdjust="spacingAndGlyphs" >3</text>
<line x1="377.40" y1="312.70" x2="380.20" y2="312.70" stroke="#1a1a1a" stroke-width="0.9"/>
<text x="374.10" y="315.70" font-size="8.6" text-anchor="end" textLength="4.18" lengthAdjust="spacingAndGlyphs" >4</text>
<line x1="392.20" y1="406.60" x2="392.20" y2="409.60" stroke="#1a1a1a" stroke-width="0.9"/>
<line x1="410.80" y1="406.60" x2="410.80" y2="409.60" stroke="#1a1a1a" stroke-width="0.9"/>
<line x1="429.20" y1="406.60" x2="429.20" y2="409.60" stroke="#1a1a1a" stroke-width="0.9"/>
<g transform="translate(397.40,415.00) rotate(-45)"><text x="0" y="0" font-size="8.6" text-anchor="end" textLength="46.65" lengthAdjust="spacingAndGlyphs" fill="#231f20">GVHD donor</text></g>
<g transform="translate(416.00,415.00) rotate(-45)"><text x="0" y="0" font-size="8.6" text-anchor="end" textLength="41.21" lengthAdjust="spacingAndGlyphs" fill="#231f20">GVHD host</text></g>
<g transform="translate(434.40,415.00) rotate(-45)"><text x="0" y="0" font-size="8.6" text-anchor="end" textLength="34.41" lengthAdjust="spacingAndGlyphs" fill="#231f20">TCD host</text></g>
<text x="411.60" y="290.00" font-size="9.7" text-anchor="middle" fill="#000" font-style="italic" textLength="10.90" lengthAdjust="spacingAndGlyphs" stroke="#000" stroke-width="0.45">Il6</text>
<path d="M392.30 327.80V314.10H429.40V321.40" stroke="#262626" stroke-width="1" fill="none"/>
<path d="M392.30 327.80V323.40H410.80V327.80" stroke="#262626" stroke-width="1" fill="none"/>
<polygon points="406.15,308.50 406.53,309.42 407.53,309.50 406.77,310.15 407.00,311.12 406.15,310.60 405.30,311.12 405.53,310.15 404.77,309.50 405.77,309.42" fill="#1a1a1a" stroke="#1a1a1a" stroke-width="0.35"/>
<polygon points="409.65,308.50 410.03,309.42 411.03,309.50 410.27,310.15 410.50,311.12 409.65,310.60 408.80,311.12 409.03,310.15 408.27,309.50 409.27,309.42" fill="#1a1a1a" stroke="#1a1a1a" stroke-width="0.35"/>
<polygon points="413.15,308.50 413.53,309.42 414.53,309.50 413.77,310.15 414.00,311.12 413.15,310.60 412.30,311.12 412.53,310.15 411.77,309.50 412.77,309.42" fill="#1a1a1a" stroke="#1a1a1a" stroke-width="0.35"/>
<polygon points="416.65,308.50 417.03,309.42 418.03,309.50 417.27,310.15 417.50,311.12 416.65,310.60 415.80,311.12 416.03,310.15 415.27,309.50 416.27,309.42" fill="#1a1a1a" stroke="#1a1a1a" stroke-width="0.35"/>
<polygon points="397.25,317.80 397.63,318.72 398.63,318.80 397.87,319.45 398.10,320.42 397.25,319.90 396.40,320.42 396.63,319.45 395.87,318.80 396.87,318.72" fill="#1a1a1a" stroke="#1a1a1a" stroke-width="0.35"/>
<polygon points="400.75,317.80 401.13,318.72 402.13,318.80 401.37,319.45 401.60,320.42 400.75,319.90 399.90,320.42 400.13,319.45 399.37,318.80 400.37,318.72" fill="#1a1a1a" stroke="#1a1a1a" stroke-width="0.35"/>
<polygon points="404.25,317.80 404.63,318.72 405.63,318.80 404.87,319.45 405.10,320.42 404.25,319.90 403.40,320.42 403.63,319.45 402.87,318.80 403.87,318.72" fill="#1a1a1a" stroke="#1a1a1a" stroke-width="0.35"/>
<polygon points="407.75,317.80 408.13,318.72 409.13,318.80 408.37,319.45 408.60,320.42 407.75,319.90 406.90,320.42 407.13,319.45 406.37,318.80 407.37,318.72" fill="#1a1a1a" stroke="#1a1a1a" stroke-width="0.35"/>
<g transform="translate(364.20,360.25) rotate(-90)"><text x="0" y="0" font-size="9.3" text-anchor="middle" textLength="111.00" lengthAdjust="spacingAndGlyphs" fill="#231f20">Log2 normalized gene expression</text></g>
<rect x="273.00" y="515.50" width="11.0" height="64.70" fill="#e2808f" stroke="#d86a7c" stroke-width="0.8"/>
<rect x="291.60" y="578.20" width="11.0" height="2.00" fill="#9cd9a0" stroke="#86cf8a" stroke-width="0.8"/>
<rect x="310.00" y="570.80" width="11.0" height="9.40" fill="#85a6c6" stroke="#6d91bb" stroke-width="0.8"/>
<path d="M278.50 510.20V520.00M275.70 510.20H281.30M275.70 520.00H281.30" stroke="#c8102e" stroke-width="0.9" fill="none"/>
<circle cx="278.3" cy="497.2" r="1.9" fill="#c8102e"/>
<circle cx="275.7" cy="513" r="1.9" fill="#c8102e"/>
<circle cx="281.3" cy="514.2" r="1.9" fill="#c8102e"/>
<circle cx="275.7" cy="517.7" r="1.9" fill="#c8102e"/>
<circle cx="281" cy="519" r="1.9" fill="#c8102e"/>
<circle cx="278.3" cy="528.2" r="1.9" fill="#c8102e"/>
<path d="M297.10 574.70V580.00M294.30 574.70H299.90M294.30 580.00H299.90" stroke="#2db34a" stroke-width="0.9" fill="none"/>
<rect x="295.00" y="568.70" width="3.4" height="3.4" fill="#2db34a"/>
<rect x="291.00" y="577.60" width="3.4" height="3.4" fill="#2db34a"/>
<rect x="295.00" y="577.80" width="3.4" height="3.4" fill="#2db34a"/>
<rect x="299.80" y="577.60" width="3.4" height="3.4" fill="#2db34a"/>
<path d="M315.50 566.00V575.00M312.70 566.00H318.30M312.70 575.00H318.30" stroke="#1f5591" stroke-width="0.9" fill="none"/>
<path d="M313.40 563.20L315.50 559.50L317.60 563.20Z" fill="#1f5591"/>
<path d="M313.40 574.60L315.50 570.90L317.60 574.60Z" fill="#1f5591"/>
<path d="M313.40 579.00L315.50 575.30L317.60 579.00Z" fill="#1f5591"/>
<path d="M266.30 487.70V580.20H328.30" stroke="#1a1a1a" stroke-width="1.3" fill="none"/>
<line x1="263.50" y1="580.20" x2="266.30" y2="580.20" stroke="#1a1a1a" stroke-width="0.9"/>
<text x="260.20" y="583.20" font-size="8.6" text-anchor="end" textLength="4.18" lengthAdjust="spacingAndGlyphs" >0</text>
<line x1="263.50" y1="561.80" x2="266.30" y2="561.80" stroke="#1a1a1a" stroke-width="0.9"/>
<text x="260.20" y="564.80" font-size="8.6" text-anchor="end" textLength="4.18" lengthAdjust="spacingAndGlyphs" >1</text>
<line x1="263.50" y1="543.40" x2="266.30" y2="543.40" stroke="#1a1a1a" stroke-width="0.9"/>
<text x="260.20" y="546.40" font-size="8.6" text-anchor="end" textLength="4.18" lengthAdjust="spacingAndGlyphs" >2</text>
<line x1="263.50" y1="525.00" x2="266.30" y2="525.00" stroke="#1a1a1a" stroke-width="0.9"/>
<text x="260.20" y="528.00" font-size="8.6" text-anchor="end" textLength="4.18" lengthAdjust="spacingAndGlyphs" >3</text>
<line x1="263.50" y1="506.60" x2="266.30" y2="506.60" stroke="#1a1a1a" stroke-width="0.9"/>
<text x="260.20" y="509.60" font-size="8.6" text-anchor="end" textLength="4.18" lengthAdjust="spacingAndGlyphs" >4</text>
<line x1="263.50" y1="488.20" x2="266.30" y2="488.20" stroke="#1a1a1a" stroke-width="0.9"/>
<text x="260.20" y="491.20" font-size="8.6" text-anchor="end" textLength="4.18" lengthAdjust="spacingAndGlyphs" >5</text>
<line x1="278.50" y1="580.20" x2="278.50" y2="583.20" stroke="#1a1a1a" stroke-width="0.9"/>
<line x1="297.10" y1="580.20" x2="297.10" y2="583.20" stroke="#1a1a1a" stroke-width="0.9"/>
<line x1="315.50" y1="580.20" x2="315.50" y2="583.20" stroke="#1a1a1a" stroke-width="0.9"/>
<g transform="translate(283.70,588.60) rotate(-45)"><text x="0" y="0" font-size="8.6" text-anchor="end" textLength="46.65" lengthAdjust="spacingAndGlyphs" fill="#231f20">GVHD donor</text></g>
<g transform="translate(302.30,588.60) rotate(-45)"><text x="0" y="0" font-size="8.6" text-anchor="end" textLength="41.21" lengthAdjust="spacingAndGlyphs" fill="#231f20">GVHD host</text></g>
<g transform="translate(320.70,588.60) rotate(-45)"><text x="0" y="0" font-size="8.6" text-anchor="end" textLength="34.41" lengthAdjust="spacingAndGlyphs" fill="#231f20">TCD host</text></g>
<text x="297.50" y="466.90" font-size="9.7" text-anchor="middle" fill="#000" font-style="italic" textLength="17.00" lengthAdjust="spacingAndGlyphs" stroke="#000" stroke-width="0.45">Il10</text>
<path d="M278.30 493.90V480.60H312.00V488.60" stroke="#262626" stroke-width="1" fill="none"/>
<path d="M278.30 493.90V489.40H298.60V493.90" stroke="#262626" stroke-width="1" fill="none"/>
<polygon points="290.05,475.50 290.43,476.42 291.43,476.50 290.67,477.15 290.90,478.12 290.05,477.60 289.20,478.12 289.43,477.15 288.67,476.50 289.67,476.42" fill="#1a1a1a" stroke="#1a1a1a" stroke-width="0.35"/>
<polygon points="293.55,475.50 293.93,476.42 294.93,476.50 294.17,477.15 294.40,478.12 293.55,477.60 292.70,478.12 292.93,477.15 292.17,476.50 293.17,476.42" fill="#1a1a1a" stroke="#1a1a1a" stroke-width="0.35"/>
<polygon points="297.05,475.50 297.43,476.42 298.43,476.50 297.67,477.15 297.90,478.12 297.05,477.60 296.20,478.12 296.43,477.15 295.67,476.50 296.67,476.42" fill="#1a1a1a" stroke="#1a1a1a" stroke-width="0.35"/>
<polygon points="300.55,475.50 300.93,476.42 301.93,476.50 301.17,477.15 301.40,478.12 300.55,477.60 299.70,478.12 299.93,477.15 299.17,476.50 300.17,476.42" fill="#1a1a1a" stroke="#1a1a1a" stroke-width="0.35"/>
<polygon points="283.25,484.00 283.63,484.92 284.63,485.00 283.87,485.65 284.10,486.62 283.25,486.10 282.40,486.62 282.63,485.65 281.87,485.00 282.87,484.92" fill="#1a1a1a" stroke="#1a1a1a" stroke-width="0.35"/>
<polygon points="286.75,484.00 287.13,484.92 288.13,485.00 287.37,485.65 287.60,486.62 286.75,486.10 285.90,486.62 286.13,485.65 285.37,485.00 286.37,484.92" fill="#1a1a1a" stroke="#1a1a1a" stroke-width="0.35"/>
<polygon points="290.25,484.00 290.63,484.92 291.63,485.00 290.87,485.65 291.10,486.62 290.25,486.10 289.40,486.62 289.63,485.65 288.87,485.00 289.87,484.92" fill="#1a1a1a" stroke="#1a1a1a" stroke-width="0.35"/>
<polygon points="293.75,484.00 294.13,484.92 295.13,485.00 294.37,485.65 294.60,486.62 293.75,486.10 292.90,486.62 293.13,485.65 292.37,485.00 293.37,484.92" fill="#1a1a1a" stroke="#1a1a1a" stroke-width="0.35"/>
<g transform="translate(250.30,534.20) rotate(-90)"><text x="0" y="0" font-size="9.3" text-anchor="middle" textLength="111.00" lengthAdjust="spacingAndGlyphs" fill="#231f20">Log2 normalized gene expression</text></g>
<rect x="386.10" y="529.80" width="11.0" height="50.50" fill="#e2808f" stroke="#d86a7c" stroke-width="0.8"/>
<rect x="404.60" y="512.70" width="11.0" height="67.60" fill="#9cd9a0" stroke="#86cf8a" stroke-width="0.8"/>
<rect x="423.80" y="523.40" width="11.0" height="56.90" fill="#85a6c6" stroke="#6d91bb" stroke-width="0.8"/>
<path d="M391.60 526.00V532.80M388.80 526.00H394.40M388.80 532.80H394.40" stroke="#c8102e" stroke-width="0.9" fill="none"/>
<circle cx="391.6" cy="518.9" r="1.9" fill="#c8102e"/>
<circle cx="388.5" cy="524" r="1.9" fill="#c8102e"/>
<circle cx="394.4" cy="526.4" r="1.9" fill="#c8102e"/>
<circle cx="388.8" cy="530.5" r="1.9" fill="#c8102e"/>
<circle cx="394.4" cy="532.5" r="1.9" fill="#c8102e"/>
<circle cx="391.6" cy="543.3" r="1.9" fill="#c8102e"/>
<path d="M410.10 503.30V519.00M407.30 503.30H412.90M407.30 519.00H412.90" stroke="#2db34a" stroke-width="0.9" fill="none"/>
<rect x="409.00" y="502.10" width="3.4" height="3.4" fill="#2db34a"/>
<rect x="406.00" y="505.10" width="3.4" height="3.4" fill="#2db34a"/>
<rect x="411.80" y="506.10" width="3.4" height="3.4" fill="#2db34a"/>
<rect x="409.00" y="529.60" width="3.4" height="3.4" fill="#2db34a"/>
<path d="M429.30 512.40V533.20M426.50 512.40H432.10M426.50 533.20H432.10" stroke="#1f5591" stroke-width="0.9" fill="none"/>
<path d="M424.50 512.90L426.60 509.20L428.70 512.90Z" fill="#1f5591"/>
<path d="M430.50 515.50L432.60 511.80L434.70 515.50Z" fill="#1f5591"/>
<path d="M427.10 545.70L429.20 542.00L431.30 545.70Z" fill="#1f5591"/>
<path d="M378.30 484.20V580.30H443.30" stroke="#1a1a1a" stroke-width="1.3" fill="none"/>
<line x1="375.50" y1="580.30" x2="378.30" y2="580.30" stroke="#1a1a1a" stroke-width="0.9"/>
<text x="372.20" y="583.30" font-size="8.6" text-anchor="end" textLength="4.18" lengthAdjust="spacingAndGlyphs" >0</text>
<line x1="375.50" y1="561.18" x2="378.30" y2="561.18" stroke="#1a1a1a" stroke-width="0.9"/>
<text x="372.20" y="564.18" font-size="8.6" text-anchor="end" textLength="4.18" lengthAdjust="spacingAndGlyphs" >2</text>
<line x1="375.50" y1="542.06" x2="378.30" y2="542.06" stroke="#1a1a1a" stroke-width="0.9"/>
<text x="372.20" y="545.06" font-size="8.6" text-anchor="end" textLength="4.18" lengthAdjust="spacingAndGlyphs" >4</text>
<line x1="375.50" y1="522.94" x2="378.30" y2="522.94" stroke="#1a1a1a" stroke-width="0.9"/>
<text x="372.20" y="525.94" font-size="8.6" text-anchor="end" textLength="4.18" lengthAdjust="spacingAndGlyphs" >6</text>
<line x1="375.50" y1="503.82" x2="378.30" y2="503.82" stroke="#1a1a1a" stroke-width="0.9"/>
<text x="372.20" y="506.82" font-size="8.6" text-anchor="end" textLength="4.18" lengthAdjust="spacingAndGlyphs" >8</text>
<line x1="375.50" y1="484.70" x2="378.30" y2="484.70" stroke="#1a1a1a" stroke-width="0.9"/>
<text x="372.20" y="487.70" font-size="8.6" text-anchor="end" textLength="8.36" lengthAdjust="spacingAndGlyphs" >10</text>
<line x1="391.60" y1="580.30" x2="391.60" y2="583.30" stroke="#1a1a1a" stroke-width="0.9"/>
<line x1="410.10" y1="580.30" x2="410.10" y2="583.30" stroke="#1a1a1a" stroke-width="0.9"/>
<line x1="429.30" y1="580.30" x2="429.30" y2="583.30" stroke="#1a1a1a" stroke-width="0.9"/>
<g transform="translate(396.80,588.70) rotate(-45)"><text x="0" y="0" font-size="8.6" text-anchor="end" textLength="46.65" lengthAdjust="spacingAndGlyphs" fill="#231f20">GVHD donor</text></g>
<g transform="translate(415.30,588.70) rotate(-45)"><text x="0" y="0" font-size="8.6" text-anchor="end" textLength="41.21" lengthAdjust="spacingAndGlyphs" fill="#231f20">GVHD host</text></g>
<g transform="translate(434.50,588.70) rotate(-45)"><text x="0" y="0" font-size="8.6" text-anchor="end" textLength="34.41" lengthAdjust="spacingAndGlyphs" fill="#231f20">TCD host</text></g>
<text x="411.00" y="466.70" font-size="9.7" text-anchor="middle" fill="#000" font-style="italic" textLength="14.00" lengthAdjust="spacingAndGlyphs" stroke="#000" stroke-width="0.45">Tnf</text>
<path d="M391.50 497.50V484.30H430.70V492.50" stroke="#262626" stroke-width="1" fill="none"/>
<path d="M391.50 497.50V493.20H411.50V497.50" stroke="#262626" stroke-width="1" fill="none"/>
<polygon points="406.45,478.90 406.83,479.82 407.83,479.90 407.07,480.55 407.30,481.52 406.45,481.00 405.60,481.52 405.83,480.55 405.07,479.90 406.07,479.82" fill="#1a1a1a" stroke="#1a1a1a" stroke-width="0.35"/>
<polygon points="409.95,478.90 410.33,479.82 411.33,479.90 410.57,480.55 410.80,481.52 409.95,481.00 409.10,481.52 409.33,480.55 408.57,479.90 409.57,479.82" fill="#1a1a1a" stroke="#1a1a1a" stroke-width="0.35"/>
<polygon points="396.25,487.90 396.63,488.82 397.63,488.90 396.87,489.55 397.10,490.52 396.25,490.00 395.40,490.52 395.63,489.55 394.87,488.90 395.87,488.82" fill="#1a1a1a" stroke="#1a1a1a" stroke-width="0.35"/>
<polygon points="399.75,487.90 400.13,488.82 401.13,488.90 400.37,489.55 400.60,490.52 399.75,490.00 398.90,490.52 399.13,489.55 398.37,488.90 399.37,488.82" fill="#1a1a1a" stroke="#1a1a1a" stroke-width="0.35"/>
<polygon points="403.25,487.90 403.63,488.82 404.63,488.90 403.87,489.55 404.10,490.52 403.25,490.00 402.40,490.52 402.63,489.55 401.87,488.90 402.87,488.82" fill="#1a1a1a" stroke="#1a1a1a" stroke-width="0.35"/>
<polygon points="406.75,487.90 407.13,488.82 408.13,488.90 407.37,489.55 407.60,490.52 406.75,490.00 405.90,490.52 406.13,489.55 405.37,488.90 406.37,488.82" fill="#1a1a1a" stroke="#1a1a1a" stroke-width="0.35"/>
<g transform="translate(362.90,532.30) rotate(-90)"><text x="0" y="0" font-size="9.3" text-anchor="middle" textLength="111.00" lengthAdjust="spacingAndGlyphs" fill="#231f20">Log2 normalized gene expression</text></g>
<rect x="455" y="536.90" width="11.6" height="6" fill="#c8102e"/>
<text x="470.00" y="542.40" font-size="7.9" textLength="42.10" lengthAdjust="spacingAndGlyphs" >GVHD donor</text>
<rect x="455" y="545.80" width="11.6" height="6" fill="#2db34a"/>
<text x="470.00" y="551.30" font-size="7.9" textLength="37.19" lengthAdjust="spacingAndGlyphs" >GVHD host</text>
<rect x="455" y="554.70" width="11.6" height="6" fill="#1f4e8c"/>
<text x="470.00" y="560.20" font-size="7.9" textLength="31.06" lengthAdjust="spacingAndGlyphs" >TCD host</text>
<rect x="0.5" y="0.5" width="519" height="627" fill="none" stroke="#000" stroke-width="1.2"/>
</svg></body></html>
